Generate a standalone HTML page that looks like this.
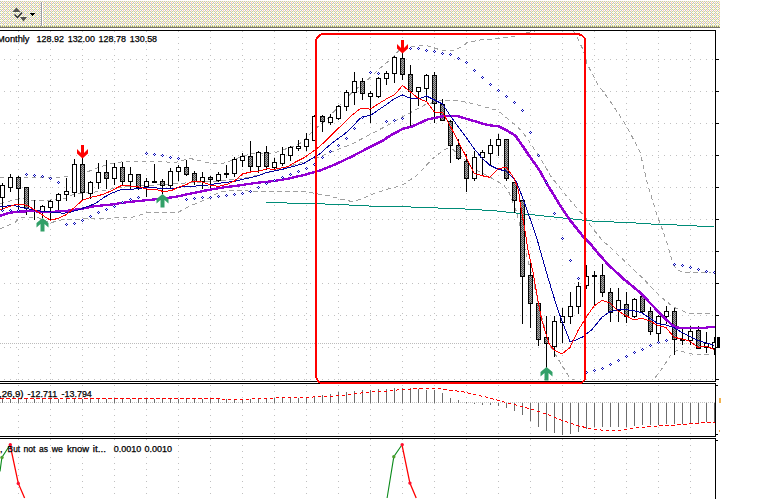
<!DOCTYPE html><html><head><meta charset="utf-8"><title>chart</title>
<style>html,body{margin:0;padding:0;background:#fff;overflow:hidden}svg{display:block}text{font-family:"Liberation Sans",sans-serif;fill:#000}</style></head><body>
<svg width="760" height="499" viewBox="0 0 760 499">
<defs>
<pattern id="tb" x="0" y="1" width="4" height="4" patternUnits="userSpaceOnUse">
<rect x="0" y="0" width="1" height="1" fill="#c0c0c0"/>
<rect x="1" y="0" width="1" height="1" fill="#ffffc0"/>
<rect x="2" y="0" width="1" height="1" fill="#c0c0c0"/>
<rect x="3" y="0" width="1" height="1" fill="#ffffc0"/>
<rect x="0" y="1" width="1" height="1" fill="#ffffff"/>
<rect x="1" y="1" width="1" height="1" fill="#c0c0c0"/>
<rect x="2" y="1" width="1" height="1" fill="#ffffff"/>
<rect x="3" y="1" width="1" height="1" fill="#ffc0c0"/>
<rect x="0" y="2" width="1" height="1" fill="#c0c0c0"/>
<rect x="1" y="2" width="1" height="1" fill="#ffffc0"/>
<rect x="2" y="2" width="1" height="1" fill="#c0c0c0"/>
<rect x="3" y="2" width="1" height="1" fill="#ffffc0"/>
<rect x="0" y="3" width="1" height="1" fill="#ffffff"/>
<rect x="1" y="3" width="1" height="1" fill="#ffffc0"/>
<rect x="2" y="3" width="1" height="1" fill="#ffffff"/>
<rect x="3" y="3" width="1" height="1" fill="#c0c0c0"/>
</pattern>
<pattern id="ck" x="0" y="0" width="2" height="2" patternUnits="userSpaceOnUse"><rect width="2" height="2" fill="#a8a8a8"/><rect x="0" y="0" width="1" height="1" fill="#505050"/><rect x="1" y="1" width="1" height="1" fill="#505050"/></pattern>
<clipPath id="cm"><rect x="0" y="31" width="715" height="350"/></clipPath>
<clipPath id="cb"><rect x="0" y="439" width="715" height="60"/></clipPath>
</defs>
<rect width="760" height="499" fill="#fff"/>
<g shape-rendering="crispEdges">
<rect x="0" y="1" width="720" height="27" fill="url(#tb)"/>
<rect x="0" y="27" width="720" height="1" fill="#74746a"/>
<rect x="0" y="26" width="720" height="1" fill="#f0f098"/>
<path d="M0 26h1v1h-1zM2 26h1v1h-1zM4 26h1v1h-1zM6 26h1v1h-1zM8 26h1v1h-1zM10 26h1v1h-1zM12 26h1v1h-1zM14 26h1v1h-1zM16 26h1v1h-1zM18 26h1v1h-1zM20 26h1v1h-1zM22 26h1v1h-1zM24 26h1v1h-1zM26 26h1v1h-1zM28 26h1v1h-1zM30 26h1v1h-1zM32 26h1v1h-1zM34 26h1v1h-1zM36 26h1v1h-1zM38 26h1v1h-1zM40 26h1v1h-1zM42 26h1v1h-1zM44 26h1v1h-1zM46 26h1v1h-1zM48 26h1v1h-1zM50 26h1v1h-1zM52 26h1v1h-1zM54 26h1v1h-1zM56 26h1v1h-1zM58 26h1v1h-1zM60 26h1v1h-1zM62 26h1v1h-1zM64 26h1v1h-1zM66 26h1v1h-1zM68 26h1v1h-1zM70 26h1v1h-1zM72 26h1v1h-1zM74 26h1v1h-1zM76 26h1v1h-1zM78 26h1v1h-1zM80 26h1v1h-1zM82 26h1v1h-1zM84 26h1v1h-1zM86 26h1v1h-1zM88 26h1v1h-1zM90 26h1v1h-1zM92 26h1v1h-1zM94 26h1v1h-1zM96 26h1v1h-1zM98 26h1v1h-1zM100 26h1v1h-1zM102 26h1v1h-1zM104 26h1v1h-1zM106 26h1v1h-1zM108 26h1v1h-1zM110 26h1v1h-1zM112 26h1v1h-1zM114 26h1v1h-1zM116 26h1v1h-1zM118 26h1v1h-1zM120 26h1v1h-1zM122 26h1v1h-1zM124 26h1v1h-1zM126 26h1v1h-1zM128 26h1v1h-1zM130 26h1v1h-1zM132 26h1v1h-1zM134 26h1v1h-1zM136 26h1v1h-1zM138 26h1v1h-1zM140 26h1v1h-1zM142 26h1v1h-1zM144 26h1v1h-1zM146 26h1v1h-1zM148 26h1v1h-1zM150 26h1v1h-1zM152 26h1v1h-1zM154 26h1v1h-1zM156 26h1v1h-1zM158 26h1v1h-1zM160 26h1v1h-1zM162 26h1v1h-1zM164 26h1v1h-1zM166 26h1v1h-1zM168 26h1v1h-1zM170 26h1v1h-1zM172 26h1v1h-1zM174 26h1v1h-1zM176 26h1v1h-1zM178 26h1v1h-1zM180 26h1v1h-1zM182 26h1v1h-1zM184 26h1v1h-1zM186 26h1v1h-1zM188 26h1v1h-1zM190 26h1v1h-1zM192 26h1v1h-1zM194 26h1v1h-1zM196 26h1v1h-1zM198 26h1v1h-1zM200 26h1v1h-1zM202 26h1v1h-1zM204 26h1v1h-1zM206 26h1v1h-1zM208 26h1v1h-1zM210 26h1v1h-1zM212 26h1v1h-1zM214 26h1v1h-1zM216 26h1v1h-1zM218 26h1v1h-1zM220 26h1v1h-1zM222 26h1v1h-1zM224 26h1v1h-1zM226 26h1v1h-1zM228 26h1v1h-1zM230 26h1v1h-1zM232 26h1v1h-1zM234 26h1v1h-1zM236 26h1v1h-1zM238 26h1v1h-1zM240 26h1v1h-1zM242 26h1v1h-1zM244 26h1v1h-1zM246 26h1v1h-1zM248 26h1v1h-1zM250 26h1v1h-1zM252 26h1v1h-1zM254 26h1v1h-1zM256 26h1v1h-1zM258 26h1v1h-1zM260 26h1v1h-1zM262 26h1v1h-1zM264 26h1v1h-1zM266 26h1v1h-1zM268 26h1v1h-1zM270 26h1v1h-1zM272 26h1v1h-1zM274 26h1v1h-1zM276 26h1v1h-1zM278 26h1v1h-1zM280 26h1v1h-1zM282 26h1v1h-1zM284 26h1v1h-1zM286 26h1v1h-1zM288 26h1v1h-1zM290 26h1v1h-1zM292 26h1v1h-1zM294 26h1v1h-1zM296 26h1v1h-1zM298 26h1v1h-1zM300 26h1v1h-1zM302 26h1v1h-1zM304 26h1v1h-1zM306 26h1v1h-1zM308 26h1v1h-1zM310 26h1v1h-1zM312 26h1v1h-1zM314 26h1v1h-1zM316 26h1v1h-1zM318 26h1v1h-1zM320 26h1v1h-1zM322 26h1v1h-1zM324 26h1v1h-1zM326 26h1v1h-1zM328 26h1v1h-1zM330 26h1v1h-1zM332 26h1v1h-1zM334 26h1v1h-1zM336 26h1v1h-1zM338 26h1v1h-1zM340 26h1v1h-1zM342 26h1v1h-1zM344 26h1v1h-1zM346 26h1v1h-1zM348 26h1v1h-1zM350 26h1v1h-1zM352 26h1v1h-1zM354 26h1v1h-1zM356 26h1v1h-1zM358 26h1v1h-1zM360 26h1v1h-1zM362 26h1v1h-1zM364 26h1v1h-1zM366 26h1v1h-1zM368 26h1v1h-1zM370 26h1v1h-1zM372 26h1v1h-1zM374 26h1v1h-1zM376 26h1v1h-1zM378 26h1v1h-1zM380 26h1v1h-1zM382 26h1v1h-1zM384 26h1v1h-1zM386 26h1v1h-1zM388 26h1v1h-1zM390 26h1v1h-1zM392 26h1v1h-1zM394 26h1v1h-1zM396 26h1v1h-1zM398 26h1v1h-1zM400 26h1v1h-1zM402 26h1v1h-1zM404 26h1v1h-1zM406 26h1v1h-1zM408 26h1v1h-1zM410 26h1v1h-1zM412 26h1v1h-1zM414 26h1v1h-1zM416 26h1v1h-1zM418 26h1v1h-1zM420 26h1v1h-1zM422 26h1v1h-1zM424 26h1v1h-1zM426 26h1v1h-1zM428 26h1v1h-1zM430 26h1v1h-1zM432 26h1v1h-1zM434 26h1v1h-1zM436 26h1v1h-1zM438 26h1v1h-1zM440 26h1v1h-1zM442 26h1v1h-1zM444 26h1v1h-1zM446 26h1v1h-1zM448 26h1v1h-1zM450 26h1v1h-1zM452 26h1v1h-1zM454 26h1v1h-1zM456 26h1v1h-1zM458 26h1v1h-1zM460 26h1v1h-1zM462 26h1v1h-1zM464 26h1v1h-1zM466 26h1v1h-1zM468 26h1v1h-1zM470 26h1v1h-1zM472 26h1v1h-1zM474 26h1v1h-1zM476 26h1v1h-1zM478 26h1v1h-1zM480 26h1v1h-1zM482 26h1v1h-1zM484 26h1v1h-1zM486 26h1v1h-1zM488 26h1v1h-1zM490 26h1v1h-1zM492 26h1v1h-1zM494 26h1v1h-1zM496 26h1v1h-1zM498 26h1v1h-1zM500 26h1v1h-1zM502 26h1v1h-1zM504 26h1v1h-1zM506 26h1v1h-1zM508 26h1v1h-1zM510 26h1v1h-1zM512 26h1v1h-1zM514 26h1v1h-1zM516 26h1v1h-1zM518 26h1v1h-1zM520 26h1v1h-1zM522 26h1v1h-1zM524 26h1v1h-1zM526 26h1v1h-1zM528 26h1v1h-1zM530 26h1v1h-1zM532 26h1v1h-1zM534 26h1v1h-1zM536 26h1v1h-1zM538 26h1v1h-1zM540 26h1v1h-1zM542 26h1v1h-1zM544 26h1v1h-1zM546 26h1v1h-1zM548 26h1v1h-1zM550 26h1v1h-1zM552 26h1v1h-1zM554 26h1v1h-1zM556 26h1v1h-1zM558 26h1v1h-1zM560 26h1v1h-1zM562 26h1v1h-1zM564 26h1v1h-1zM566 26h1v1h-1zM568 26h1v1h-1zM570 26h1v1h-1zM572 26h1v1h-1zM574 26h1v1h-1zM576 26h1v1h-1zM578 26h1v1h-1zM580 26h1v1h-1zM582 26h1v1h-1zM584 26h1v1h-1zM586 26h1v1h-1zM588 26h1v1h-1zM590 26h1v1h-1zM592 26h1v1h-1zM594 26h1v1h-1zM596 26h1v1h-1zM598 26h1v1h-1zM600 26h1v1h-1zM602 26h1v1h-1zM604 26h1v1h-1zM606 26h1v1h-1zM608 26h1v1h-1zM610 26h1v1h-1zM612 26h1v1h-1zM614 26h1v1h-1zM616 26h1v1h-1zM618 26h1v1h-1zM620 26h1v1h-1zM622 26h1v1h-1zM624 26h1v1h-1zM626 26h1v1h-1zM628 26h1v1h-1zM630 26h1v1h-1zM632 26h1v1h-1zM634 26h1v1h-1zM636 26h1v1h-1zM638 26h1v1h-1zM640 26h1v1h-1zM642 26h1v1h-1zM644 26h1v1h-1zM646 26h1v1h-1zM648 26h1v1h-1zM650 26h1v1h-1zM652 26h1v1h-1zM654 26h1v1h-1zM656 26h1v1h-1zM658 26h1v1h-1zM660 26h1v1h-1zM662 26h1v1h-1zM664 26h1v1h-1zM666 26h1v1h-1zM668 26h1v1h-1zM670 26h1v1h-1zM672 26h1v1h-1zM674 26h1v1h-1zM676 26h1v1h-1zM678 26h1v1h-1zM680 26h1v1h-1zM682 26h1v1h-1zM684 26h1v1h-1zM686 26h1v1h-1zM688 26h1v1h-1zM690 26h1v1h-1zM692 26h1v1h-1zM694 26h1v1h-1zM696 26h1v1h-1zM698 26h1v1h-1zM700 26h1v1h-1zM702 26h1v1h-1zM704 26h1v1h-1zM706 26h1v1h-1zM708 26h1v1h-1zM710 26h1v1h-1zM712 26h1v1h-1zM714 26h1v1h-1zM716 26h1v1h-1zM718 26h1v1h-1z" fill="#909080"/>
<rect x="41" y="2" width="1" height="24" fill="#a0a0a0"/><rect x="42" y="2" width="1" height="24" fill="#fff"/>
<rect x="30" y="13" width="5" height="1" fill="#000"/><rect x="31" y="14" width="3" height="1" fill="#000"/><rect x="32" y="15" width="1" height="1" fill="#000"/>
</g>
<g>
<polygon points="16.5,7.5 20.5,12 12.5,12" fill="#383838" opacity="0.85"/>
<polygon points="20,17 27,17 23.5,21.5" fill="#383838" opacity="0.85"/>
<polyline points="14.5,14.5 17.5,17.5 22,12.5" fill="none" stroke="#303030" stroke-width="1.4"/>
</g>
<g shape-rendering="crispEdges" fill="#c0c0c0">
<path d="M18 31h1v1h-1zM18 37h1v1h-1zM18 43h1v1h-1zM18 49h1v1h-1zM18 55h1v1h-1zM18 61h1v1h-1zM18 67h1v1h-1zM18 73h1v1h-1zM18 79h1v1h-1zM18 85h1v1h-1zM18 91h1v1h-1zM18 97h1v1h-1zM18 103h1v1h-1zM18 109h1v1h-1zM18 115h1v1h-1zM18 121h1v1h-1zM18 127h1v1h-1zM18 133h1v1h-1zM18 139h1v1h-1zM18 145h1v1h-1zM18 151h1v1h-1zM18 157h1v1h-1zM18 163h1v1h-1zM18 169h1v1h-1zM18 175h1v1h-1zM18 181h1v1h-1zM18 187h1v1h-1zM18 193h1v1h-1zM18 199h1v1h-1zM18 205h1v1h-1zM18 211h1v1h-1zM18 217h1v1h-1zM18 223h1v1h-1zM18 229h1v1h-1zM18 235h1v1h-1zM18 241h1v1h-1zM18 247h1v1h-1zM18 253h1v1h-1zM18 259h1v1h-1zM18 265h1v1h-1zM18 271h1v1h-1zM18 277h1v1h-1zM18 283h1v1h-1zM18 289h1v1h-1zM18 295h1v1h-1zM18 301h1v1h-1zM18 307h1v1h-1zM18 313h1v1h-1zM18 319h1v1h-1zM18 325h1v1h-1zM18 331h1v1h-1zM18 337h1v1h-1zM18 343h1v1h-1zM18 349h1v1h-1zM18 355h1v1h-1zM18 361h1v1h-1zM18 367h1v1h-1zM18 373h1v1h-1zM18 379h1v1h-1zM18 385h1v1h-1zM18 391h1v1h-1zM18 397h1v1h-1zM18 403h1v1h-1zM18 409h1v1h-1zM18 415h1v1h-1zM18 421h1v1h-1zM18 427h1v1h-1zM18 433h1v1h-1zM18 439h1v1h-1zM18 445h1v1h-1zM18 451h1v1h-1zM18 457h1v1h-1zM18 463h1v1h-1zM18 469h1v1h-1zM18 475h1v1h-1zM18 481h1v1h-1zM18 487h1v1h-1zM18 493h1v1h-1zM50 31h1v1h-1zM50 37h1v1h-1zM50 43h1v1h-1zM50 49h1v1h-1zM50 55h1v1h-1zM50 61h1v1h-1zM50 67h1v1h-1zM50 73h1v1h-1zM50 79h1v1h-1zM50 85h1v1h-1zM50 91h1v1h-1zM50 97h1v1h-1zM50 103h1v1h-1zM50 109h1v1h-1zM50 115h1v1h-1zM50 121h1v1h-1zM50 127h1v1h-1zM50 133h1v1h-1zM50 139h1v1h-1zM50 145h1v1h-1zM50 151h1v1h-1zM50 157h1v1h-1zM50 163h1v1h-1zM50 169h1v1h-1zM50 175h1v1h-1zM50 181h1v1h-1zM50 187h1v1h-1zM50 193h1v1h-1zM50 199h1v1h-1zM50 205h1v1h-1zM50 211h1v1h-1zM50 217h1v1h-1zM50 223h1v1h-1zM50 229h1v1h-1zM50 235h1v1h-1zM50 241h1v1h-1zM50 247h1v1h-1zM50 253h1v1h-1zM50 259h1v1h-1zM50 265h1v1h-1zM50 271h1v1h-1zM50 277h1v1h-1zM50 283h1v1h-1zM50 289h1v1h-1zM50 295h1v1h-1zM50 301h1v1h-1zM50 307h1v1h-1zM50 313h1v1h-1zM50 319h1v1h-1zM50 325h1v1h-1zM50 331h1v1h-1zM50 337h1v1h-1zM50 343h1v1h-1zM50 349h1v1h-1zM50 355h1v1h-1zM50 361h1v1h-1zM50 367h1v1h-1zM50 373h1v1h-1zM50 379h1v1h-1zM50 385h1v1h-1zM50 391h1v1h-1zM50 397h1v1h-1zM50 403h1v1h-1zM50 409h1v1h-1zM50 415h1v1h-1zM50 421h1v1h-1zM50 427h1v1h-1zM50 433h1v1h-1zM50 439h1v1h-1zM50 445h1v1h-1zM50 451h1v1h-1zM50 457h1v1h-1zM50 463h1v1h-1zM50 469h1v1h-1zM50 475h1v1h-1zM50 481h1v1h-1zM50 487h1v1h-1zM50 493h1v1h-1zM82 31h1v1h-1zM82 37h1v1h-1zM82 43h1v1h-1zM82 49h1v1h-1zM82 55h1v1h-1zM82 61h1v1h-1zM82 67h1v1h-1zM82 73h1v1h-1zM82 79h1v1h-1zM82 85h1v1h-1zM82 91h1v1h-1zM82 97h1v1h-1zM82 103h1v1h-1zM82 109h1v1h-1zM82 115h1v1h-1zM82 121h1v1h-1zM82 127h1v1h-1zM82 133h1v1h-1zM82 139h1v1h-1zM82 145h1v1h-1zM82 151h1v1h-1zM82 157h1v1h-1zM82 163h1v1h-1zM82 169h1v1h-1zM82 175h1v1h-1zM82 181h1v1h-1zM82 187h1v1h-1zM82 193h1v1h-1zM82 199h1v1h-1zM82 205h1v1h-1zM82 211h1v1h-1zM82 217h1v1h-1zM82 223h1v1h-1zM82 229h1v1h-1zM82 235h1v1h-1zM82 241h1v1h-1zM82 247h1v1h-1zM82 253h1v1h-1zM82 259h1v1h-1zM82 265h1v1h-1zM82 271h1v1h-1zM82 277h1v1h-1zM82 283h1v1h-1zM82 289h1v1h-1zM82 295h1v1h-1zM82 301h1v1h-1zM82 307h1v1h-1zM82 313h1v1h-1zM82 319h1v1h-1zM82 325h1v1h-1zM82 331h1v1h-1zM82 337h1v1h-1zM82 343h1v1h-1zM82 349h1v1h-1zM82 355h1v1h-1zM82 361h1v1h-1zM82 367h1v1h-1zM82 373h1v1h-1zM82 379h1v1h-1zM82 385h1v1h-1zM82 391h1v1h-1zM82 397h1v1h-1zM82 403h1v1h-1zM82 409h1v1h-1zM82 415h1v1h-1zM82 421h1v1h-1zM82 427h1v1h-1zM82 433h1v1h-1zM82 439h1v1h-1zM82 445h1v1h-1zM82 451h1v1h-1zM82 457h1v1h-1zM82 463h1v1h-1zM82 469h1v1h-1zM82 475h1v1h-1zM82 481h1v1h-1zM82 487h1v1h-1zM82 493h1v1h-1zM114 31h1v1h-1zM114 37h1v1h-1zM114 43h1v1h-1zM114 49h1v1h-1zM114 55h1v1h-1zM114 61h1v1h-1zM114 67h1v1h-1zM114 73h1v1h-1zM114 79h1v1h-1zM114 85h1v1h-1zM114 91h1v1h-1zM114 97h1v1h-1zM114 103h1v1h-1zM114 109h1v1h-1zM114 115h1v1h-1zM114 121h1v1h-1zM114 127h1v1h-1zM114 133h1v1h-1zM114 139h1v1h-1zM114 145h1v1h-1zM114 151h1v1h-1zM114 157h1v1h-1zM114 163h1v1h-1zM114 169h1v1h-1zM114 175h1v1h-1zM114 181h1v1h-1zM114 187h1v1h-1zM114 193h1v1h-1zM114 199h1v1h-1zM114 205h1v1h-1zM114 211h1v1h-1zM114 217h1v1h-1zM114 223h1v1h-1zM114 229h1v1h-1zM114 235h1v1h-1zM114 241h1v1h-1zM114 247h1v1h-1zM114 253h1v1h-1zM114 259h1v1h-1zM114 265h1v1h-1zM114 271h1v1h-1zM114 277h1v1h-1zM114 283h1v1h-1zM114 289h1v1h-1zM114 295h1v1h-1zM114 301h1v1h-1zM114 307h1v1h-1zM114 313h1v1h-1zM114 319h1v1h-1zM114 325h1v1h-1zM114 331h1v1h-1zM114 337h1v1h-1zM114 343h1v1h-1zM114 349h1v1h-1zM114 355h1v1h-1zM114 361h1v1h-1zM114 367h1v1h-1zM114 373h1v1h-1zM114 379h1v1h-1zM114 385h1v1h-1zM114 391h1v1h-1zM114 397h1v1h-1zM114 403h1v1h-1zM114 409h1v1h-1zM114 415h1v1h-1zM114 421h1v1h-1zM114 427h1v1h-1zM114 433h1v1h-1zM114 439h1v1h-1zM114 445h1v1h-1zM114 451h1v1h-1zM114 457h1v1h-1zM114 463h1v1h-1zM114 469h1v1h-1zM114 475h1v1h-1zM114 481h1v1h-1zM114 487h1v1h-1zM114 493h1v1h-1zM146 31h1v1h-1zM146 37h1v1h-1zM146 43h1v1h-1zM146 49h1v1h-1zM146 55h1v1h-1zM146 61h1v1h-1zM146 67h1v1h-1zM146 73h1v1h-1zM146 79h1v1h-1zM146 85h1v1h-1zM146 91h1v1h-1zM146 97h1v1h-1zM146 103h1v1h-1zM146 109h1v1h-1zM146 115h1v1h-1zM146 121h1v1h-1zM146 127h1v1h-1zM146 133h1v1h-1zM146 139h1v1h-1zM146 145h1v1h-1zM146 151h1v1h-1zM146 157h1v1h-1zM146 163h1v1h-1zM146 169h1v1h-1zM146 175h1v1h-1zM146 181h1v1h-1zM146 187h1v1h-1zM146 193h1v1h-1zM146 199h1v1h-1zM146 205h1v1h-1zM146 211h1v1h-1zM146 217h1v1h-1zM146 223h1v1h-1zM146 229h1v1h-1zM146 235h1v1h-1zM146 241h1v1h-1zM146 247h1v1h-1zM146 253h1v1h-1zM146 259h1v1h-1zM146 265h1v1h-1zM146 271h1v1h-1zM146 277h1v1h-1zM146 283h1v1h-1zM146 289h1v1h-1zM146 295h1v1h-1zM146 301h1v1h-1zM146 307h1v1h-1zM146 313h1v1h-1zM146 319h1v1h-1zM146 325h1v1h-1zM146 331h1v1h-1zM146 337h1v1h-1zM146 343h1v1h-1zM146 349h1v1h-1zM146 355h1v1h-1zM146 361h1v1h-1zM146 367h1v1h-1zM146 373h1v1h-1zM146 379h1v1h-1zM146 385h1v1h-1zM146 391h1v1h-1zM146 397h1v1h-1zM146 403h1v1h-1zM146 409h1v1h-1zM146 415h1v1h-1zM146 421h1v1h-1zM146 427h1v1h-1zM146 433h1v1h-1zM146 439h1v1h-1zM146 445h1v1h-1zM146 451h1v1h-1zM146 457h1v1h-1zM146 463h1v1h-1zM146 469h1v1h-1zM146 475h1v1h-1zM146 481h1v1h-1zM146 487h1v1h-1zM146 493h1v1h-1zM178 31h1v1h-1zM178 37h1v1h-1zM178 43h1v1h-1zM178 49h1v1h-1zM178 55h1v1h-1zM178 61h1v1h-1zM178 67h1v1h-1zM178 73h1v1h-1zM178 79h1v1h-1zM178 85h1v1h-1zM178 91h1v1h-1zM178 97h1v1h-1zM178 103h1v1h-1zM178 109h1v1h-1zM178 115h1v1h-1zM178 121h1v1h-1zM178 127h1v1h-1zM178 133h1v1h-1zM178 139h1v1h-1zM178 145h1v1h-1zM178 151h1v1h-1zM178 157h1v1h-1zM178 163h1v1h-1zM178 169h1v1h-1zM178 175h1v1h-1zM178 181h1v1h-1zM178 187h1v1h-1zM178 193h1v1h-1zM178 199h1v1h-1zM178 205h1v1h-1zM178 211h1v1h-1zM178 217h1v1h-1zM178 223h1v1h-1zM178 229h1v1h-1zM178 235h1v1h-1zM178 241h1v1h-1zM178 247h1v1h-1zM178 253h1v1h-1zM178 259h1v1h-1zM178 265h1v1h-1zM178 271h1v1h-1zM178 277h1v1h-1zM178 283h1v1h-1zM178 289h1v1h-1zM178 295h1v1h-1zM178 301h1v1h-1zM178 307h1v1h-1zM178 313h1v1h-1zM178 319h1v1h-1zM178 325h1v1h-1zM178 331h1v1h-1zM178 337h1v1h-1zM178 343h1v1h-1zM178 349h1v1h-1zM178 355h1v1h-1zM178 361h1v1h-1zM178 367h1v1h-1zM178 373h1v1h-1zM178 379h1v1h-1zM178 385h1v1h-1zM178 391h1v1h-1zM178 397h1v1h-1zM178 403h1v1h-1zM178 409h1v1h-1zM178 415h1v1h-1zM178 421h1v1h-1zM178 427h1v1h-1zM178 433h1v1h-1zM178 439h1v1h-1zM178 445h1v1h-1zM178 451h1v1h-1zM178 457h1v1h-1zM178 463h1v1h-1zM178 469h1v1h-1zM178 475h1v1h-1zM178 481h1v1h-1zM178 487h1v1h-1zM178 493h1v1h-1zM210 31h1v1h-1zM210 37h1v1h-1zM210 43h1v1h-1zM210 49h1v1h-1zM210 55h1v1h-1zM210 61h1v1h-1zM210 67h1v1h-1zM210 73h1v1h-1zM210 79h1v1h-1zM210 85h1v1h-1zM210 91h1v1h-1zM210 97h1v1h-1zM210 103h1v1h-1zM210 109h1v1h-1zM210 115h1v1h-1zM210 121h1v1h-1zM210 127h1v1h-1zM210 133h1v1h-1zM210 139h1v1h-1zM210 145h1v1h-1zM210 151h1v1h-1zM210 157h1v1h-1zM210 163h1v1h-1zM210 169h1v1h-1zM210 175h1v1h-1zM210 181h1v1h-1zM210 187h1v1h-1zM210 193h1v1h-1zM210 199h1v1h-1zM210 205h1v1h-1zM210 211h1v1h-1zM210 217h1v1h-1zM210 223h1v1h-1zM210 229h1v1h-1zM210 235h1v1h-1zM210 241h1v1h-1zM210 247h1v1h-1zM210 253h1v1h-1zM210 259h1v1h-1zM210 265h1v1h-1zM210 271h1v1h-1zM210 277h1v1h-1zM210 283h1v1h-1zM210 289h1v1h-1zM210 295h1v1h-1zM210 301h1v1h-1zM210 307h1v1h-1zM210 313h1v1h-1zM210 319h1v1h-1zM210 325h1v1h-1zM210 331h1v1h-1zM210 337h1v1h-1zM210 343h1v1h-1zM210 349h1v1h-1zM210 355h1v1h-1zM210 361h1v1h-1zM210 367h1v1h-1zM210 373h1v1h-1zM210 379h1v1h-1zM210 385h1v1h-1zM210 391h1v1h-1zM210 397h1v1h-1zM210 403h1v1h-1zM210 409h1v1h-1zM210 415h1v1h-1zM210 421h1v1h-1zM210 427h1v1h-1zM210 433h1v1h-1zM210 439h1v1h-1zM210 445h1v1h-1zM210 451h1v1h-1zM210 457h1v1h-1zM210 463h1v1h-1zM210 469h1v1h-1zM210 475h1v1h-1zM210 481h1v1h-1zM210 487h1v1h-1zM210 493h1v1h-1zM242 31h1v1h-1zM242 37h1v1h-1zM242 43h1v1h-1zM242 49h1v1h-1zM242 55h1v1h-1zM242 61h1v1h-1zM242 67h1v1h-1zM242 73h1v1h-1zM242 79h1v1h-1zM242 85h1v1h-1zM242 91h1v1h-1zM242 97h1v1h-1zM242 103h1v1h-1zM242 109h1v1h-1zM242 115h1v1h-1zM242 121h1v1h-1zM242 127h1v1h-1zM242 133h1v1h-1zM242 139h1v1h-1zM242 145h1v1h-1zM242 151h1v1h-1zM242 157h1v1h-1zM242 163h1v1h-1zM242 169h1v1h-1zM242 175h1v1h-1zM242 181h1v1h-1zM242 187h1v1h-1zM242 193h1v1h-1zM242 199h1v1h-1zM242 205h1v1h-1zM242 211h1v1h-1zM242 217h1v1h-1zM242 223h1v1h-1zM242 229h1v1h-1zM242 235h1v1h-1zM242 241h1v1h-1zM242 247h1v1h-1zM242 253h1v1h-1zM242 259h1v1h-1zM242 265h1v1h-1zM242 271h1v1h-1zM242 277h1v1h-1zM242 283h1v1h-1zM242 289h1v1h-1zM242 295h1v1h-1zM242 301h1v1h-1zM242 307h1v1h-1zM242 313h1v1h-1zM242 319h1v1h-1zM242 325h1v1h-1zM242 331h1v1h-1zM242 337h1v1h-1zM242 343h1v1h-1zM242 349h1v1h-1zM242 355h1v1h-1zM242 361h1v1h-1zM242 367h1v1h-1zM242 373h1v1h-1zM242 379h1v1h-1zM242 385h1v1h-1zM242 391h1v1h-1zM242 397h1v1h-1zM242 403h1v1h-1zM242 409h1v1h-1zM242 415h1v1h-1zM242 421h1v1h-1zM242 427h1v1h-1zM242 433h1v1h-1zM242 439h1v1h-1zM242 445h1v1h-1zM242 451h1v1h-1zM242 457h1v1h-1zM242 463h1v1h-1zM242 469h1v1h-1zM242 475h1v1h-1zM242 481h1v1h-1zM242 487h1v1h-1zM242 493h1v1h-1zM274 31h1v1h-1zM274 37h1v1h-1zM274 43h1v1h-1zM274 49h1v1h-1zM274 55h1v1h-1zM274 61h1v1h-1zM274 67h1v1h-1zM274 73h1v1h-1zM274 79h1v1h-1zM274 85h1v1h-1zM274 91h1v1h-1zM274 97h1v1h-1zM274 103h1v1h-1zM274 109h1v1h-1zM274 115h1v1h-1zM274 121h1v1h-1zM274 127h1v1h-1zM274 133h1v1h-1zM274 139h1v1h-1zM274 145h1v1h-1zM274 151h1v1h-1zM274 157h1v1h-1zM274 163h1v1h-1zM274 169h1v1h-1zM274 175h1v1h-1zM274 181h1v1h-1zM274 187h1v1h-1zM274 193h1v1h-1zM274 199h1v1h-1zM274 205h1v1h-1zM274 211h1v1h-1zM274 217h1v1h-1zM274 223h1v1h-1zM274 229h1v1h-1zM274 235h1v1h-1zM274 241h1v1h-1zM274 247h1v1h-1zM274 253h1v1h-1zM274 259h1v1h-1zM274 265h1v1h-1zM274 271h1v1h-1zM274 277h1v1h-1zM274 283h1v1h-1zM274 289h1v1h-1zM274 295h1v1h-1zM274 301h1v1h-1zM274 307h1v1h-1zM274 313h1v1h-1zM274 319h1v1h-1zM274 325h1v1h-1zM274 331h1v1h-1zM274 337h1v1h-1zM274 343h1v1h-1zM274 349h1v1h-1zM274 355h1v1h-1zM274 361h1v1h-1zM274 367h1v1h-1zM274 373h1v1h-1zM274 379h1v1h-1zM274 385h1v1h-1zM274 391h1v1h-1zM274 397h1v1h-1zM274 403h1v1h-1zM274 409h1v1h-1zM274 415h1v1h-1zM274 421h1v1h-1zM274 427h1v1h-1zM274 433h1v1h-1zM274 439h1v1h-1zM274 445h1v1h-1zM274 451h1v1h-1zM274 457h1v1h-1zM274 463h1v1h-1zM274 469h1v1h-1zM274 475h1v1h-1zM274 481h1v1h-1zM274 487h1v1h-1zM274 493h1v1h-1zM306 31h1v1h-1zM306 37h1v1h-1zM306 43h1v1h-1zM306 49h1v1h-1zM306 55h1v1h-1zM306 61h1v1h-1zM306 67h1v1h-1zM306 73h1v1h-1zM306 79h1v1h-1zM306 85h1v1h-1zM306 91h1v1h-1zM306 97h1v1h-1zM306 103h1v1h-1zM306 109h1v1h-1zM306 115h1v1h-1zM306 121h1v1h-1zM306 127h1v1h-1zM306 133h1v1h-1zM306 139h1v1h-1zM306 145h1v1h-1zM306 151h1v1h-1zM306 157h1v1h-1zM306 163h1v1h-1zM306 169h1v1h-1zM306 175h1v1h-1zM306 181h1v1h-1zM306 187h1v1h-1zM306 193h1v1h-1zM306 199h1v1h-1zM306 205h1v1h-1zM306 211h1v1h-1zM306 217h1v1h-1zM306 223h1v1h-1zM306 229h1v1h-1zM306 235h1v1h-1zM306 241h1v1h-1zM306 247h1v1h-1zM306 253h1v1h-1zM306 259h1v1h-1zM306 265h1v1h-1zM306 271h1v1h-1zM306 277h1v1h-1zM306 283h1v1h-1zM306 289h1v1h-1zM306 295h1v1h-1zM306 301h1v1h-1zM306 307h1v1h-1zM306 313h1v1h-1zM306 319h1v1h-1zM306 325h1v1h-1zM306 331h1v1h-1zM306 337h1v1h-1zM306 343h1v1h-1zM306 349h1v1h-1zM306 355h1v1h-1zM306 361h1v1h-1zM306 367h1v1h-1zM306 373h1v1h-1zM306 379h1v1h-1zM306 385h1v1h-1zM306 391h1v1h-1zM306 397h1v1h-1zM306 403h1v1h-1zM306 409h1v1h-1zM306 415h1v1h-1zM306 421h1v1h-1zM306 427h1v1h-1zM306 433h1v1h-1zM306 439h1v1h-1zM306 445h1v1h-1zM306 451h1v1h-1zM306 457h1v1h-1zM306 463h1v1h-1zM306 469h1v1h-1zM306 475h1v1h-1zM306 481h1v1h-1zM306 487h1v1h-1zM306 493h1v1h-1zM338 31h1v1h-1zM338 37h1v1h-1zM338 43h1v1h-1zM338 49h1v1h-1zM338 55h1v1h-1zM338 61h1v1h-1zM338 67h1v1h-1zM338 73h1v1h-1zM338 79h1v1h-1zM338 85h1v1h-1zM338 91h1v1h-1zM338 97h1v1h-1zM338 103h1v1h-1zM338 109h1v1h-1zM338 115h1v1h-1zM338 121h1v1h-1zM338 127h1v1h-1zM338 133h1v1h-1zM338 139h1v1h-1zM338 145h1v1h-1zM338 151h1v1h-1zM338 157h1v1h-1zM338 163h1v1h-1zM338 169h1v1h-1zM338 175h1v1h-1zM338 181h1v1h-1zM338 187h1v1h-1zM338 193h1v1h-1zM338 199h1v1h-1zM338 205h1v1h-1zM338 211h1v1h-1zM338 217h1v1h-1zM338 223h1v1h-1zM338 229h1v1h-1zM338 235h1v1h-1zM338 241h1v1h-1zM338 247h1v1h-1zM338 253h1v1h-1zM338 259h1v1h-1zM338 265h1v1h-1zM338 271h1v1h-1zM338 277h1v1h-1zM338 283h1v1h-1zM338 289h1v1h-1zM338 295h1v1h-1zM338 301h1v1h-1zM338 307h1v1h-1zM338 313h1v1h-1zM338 319h1v1h-1zM338 325h1v1h-1zM338 331h1v1h-1zM338 337h1v1h-1zM338 343h1v1h-1zM338 349h1v1h-1zM338 355h1v1h-1zM338 361h1v1h-1zM338 367h1v1h-1zM338 373h1v1h-1zM338 379h1v1h-1zM338 385h1v1h-1zM338 391h1v1h-1zM338 397h1v1h-1zM338 403h1v1h-1zM338 409h1v1h-1zM338 415h1v1h-1zM338 421h1v1h-1zM338 427h1v1h-1zM338 433h1v1h-1zM338 439h1v1h-1zM338 445h1v1h-1zM338 451h1v1h-1zM338 457h1v1h-1zM338 463h1v1h-1zM338 469h1v1h-1zM338 475h1v1h-1zM338 481h1v1h-1zM338 487h1v1h-1zM338 493h1v1h-1zM370 31h1v1h-1zM370 37h1v1h-1zM370 43h1v1h-1zM370 49h1v1h-1zM370 55h1v1h-1zM370 61h1v1h-1zM370 67h1v1h-1zM370 73h1v1h-1zM370 79h1v1h-1zM370 85h1v1h-1zM370 91h1v1h-1zM370 97h1v1h-1zM370 103h1v1h-1zM370 109h1v1h-1zM370 115h1v1h-1zM370 121h1v1h-1zM370 127h1v1h-1zM370 133h1v1h-1zM370 139h1v1h-1zM370 145h1v1h-1zM370 151h1v1h-1zM370 157h1v1h-1zM370 163h1v1h-1zM370 169h1v1h-1zM370 175h1v1h-1zM370 181h1v1h-1zM370 187h1v1h-1zM370 193h1v1h-1zM370 199h1v1h-1zM370 205h1v1h-1zM370 211h1v1h-1zM370 217h1v1h-1zM370 223h1v1h-1zM370 229h1v1h-1zM370 235h1v1h-1zM370 241h1v1h-1zM370 247h1v1h-1zM370 253h1v1h-1zM370 259h1v1h-1zM370 265h1v1h-1zM370 271h1v1h-1zM370 277h1v1h-1zM370 283h1v1h-1zM370 289h1v1h-1zM370 295h1v1h-1zM370 301h1v1h-1zM370 307h1v1h-1zM370 313h1v1h-1zM370 319h1v1h-1zM370 325h1v1h-1zM370 331h1v1h-1zM370 337h1v1h-1zM370 343h1v1h-1zM370 349h1v1h-1zM370 355h1v1h-1zM370 361h1v1h-1zM370 367h1v1h-1zM370 373h1v1h-1zM370 379h1v1h-1zM370 385h1v1h-1zM370 391h1v1h-1zM370 397h1v1h-1zM370 403h1v1h-1zM370 409h1v1h-1zM370 415h1v1h-1zM370 421h1v1h-1zM370 427h1v1h-1zM370 433h1v1h-1zM370 439h1v1h-1zM370 445h1v1h-1zM370 451h1v1h-1zM370 457h1v1h-1zM370 463h1v1h-1zM370 469h1v1h-1zM370 475h1v1h-1zM370 481h1v1h-1zM370 487h1v1h-1zM370 493h1v1h-1zM402 31h1v1h-1zM402 37h1v1h-1zM402 43h1v1h-1zM402 49h1v1h-1zM402 55h1v1h-1zM402 61h1v1h-1zM402 67h1v1h-1zM402 73h1v1h-1zM402 79h1v1h-1zM402 85h1v1h-1zM402 91h1v1h-1zM402 97h1v1h-1zM402 103h1v1h-1zM402 109h1v1h-1zM402 115h1v1h-1zM402 121h1v1h-1zM402 127h1v1h-1zM402 133h1v1h-1zM402 139h1v1h-1zM402 145h1v1h-1zM402 151h1v1h-1zM402 157h1v1h-1zM402 163h1v1h-1zM402 169h1v1h-1zM402 175h1v1h-1zM402 181h1v1h-1zM402 187h1v1h-1zM402 193h1v1h-1zM402 199h1v1h-1zM402 205h1v1h-1zM402 211h1v1h-1zM402 217h1v1h-1zM402 223h1v1h-1zM402 229h1v1h-1zM402 235h1v1h-1zM402 241h1v1h-1zM402 247h1v1h-1zM402 253h1v1h-1zM402 259h1v1h-1zM402 265h1v1h-1zM402 271h1v1h-1zM402 277h1v1h-1zM402 283h1v1h-1zM402 289h1v1h-1zM402 295h1v1h-1zM402 301h1v1h-1zM402 307h1v1h-1zM402 313h1v1h-1zM402 319h1v1h-1zM402 325h1v1h-1zM402 331h1v1h-1zM402 337h1v1h-1zM402 343h1v1h-1zM402 349h1v1h-1zM402 355h1v1h-1zM402 361h1v1h-1zM402 367h1v1h-1zM402 373h1v1h-1zM402 379h1v1h-1zM402 385h1v1h-1zM402 391h1v1h-1zM402 397h1v1h-1zM402 403h1v1h-1zM402 409h1v1h-1zM402 415h1v1h-1zM402 421h1v1h-1zM402 427h1v1h-1zM402 433h1v1h-1zM402 439h1v1h-1zM402 445h1v1h-1zM402 451h1v1h-1zM402 457h1v1h-1zM402 463h1v1h-1zM402 469h1v1h-1zM402 475h1v1h-1zM402 481h1v1h-1zM402 487h1v1h-1zM402 493h1v1h-1zM434 31h1v1h-1zM434 37h1v1h-1zM434 43h1v1h-1zM434 49h1v1h-1zM434 55h1v1h-1zM434 61h1v1h-1zM434 67h1v1h-1zM434 73h1v1h-1zM434 79h1v1h-1zM434 85h1v1h-1zM434 91h1v1h-1zM434 97h1v1h-1zM434 103h1v1h-1zM434 109h1v1h-1zM434 115h1v1h-1zM434 121h1v1h-1zM434 127h1v1h-1zM434 133h1v1h-1zM434 139h1v1h-1zM434 145h1v1h-1zM434 151h1v1h-1zM434 157h1v1h-1zM434 163h1v1h-1zM434 169h1v1h-1zM434 175h1v1h-1zM434 181h1v1h-1zM434 187h1v1h-1zM434 193h1v1h-1zM434 199h1v1h-1zM434 205h1v1h-1zM434 211h1v1h-1zM434 217h1v1h-1zM434 223h1v1h-1zM434 229h1v1h-1zM434 235h1v1h-1zM434 241h1v1h-1zM434 247h1v1h-1zM434 253h1v1h-1zM434 259h1v1h-1zM434 265h1v1h-1zM434 271h1v1h-1zM434 277h1v1h-1zM434 283h1v1h-1zM434 289h1v1h-1zM434 295h1v1h-1zM434 301h1v1h-1zM434 307h1v1h-1zM434 313h1v1h-1zM434 319h1v1h-1zM434 325h1v1h-1zM434 331h1v1h-1zM434 337h1v1h-1zM434 343h1v1h-1zM434 349h1v1h-1zM434 355h1v1h-1zM434 361h1v1h-1zM434 367h1v1h-1zM434 373h1v1h-1zM434 379h1v1h-1zM434 385h1v1h-1zM434 391h1v1h-1zM434 397h1v1h-1zM434 403h1v1h-1zM434 409h1v1h-1zM434 415h1v1h-1zM434 421h1v1h-1zM434 427h1v1h-1zM434 433h1v1h-1zM434 439h1v1h-1zM434 445h1v1h-1zM434 451h1v1h-1zM434 457h1v1h-1zM434 463h1v1h-1zM434 469h1v1h-1zM434 475h1v1h-1zM434 481h1v1h-1zM434 487h1v1h-1zM434 493h1v1h-1zM466 31h1v1h-1zM466 37h1v1h-1zM466 43h1v1h-1zM466 49h1v1h-1zM466 55h1v1h-1zM466 61h1v1h-1zM466 67h1v1h-1zM466 73h1v1h-1zM466 79h1v1h-1zM466 85h1v1h-1zM466 91h1v1h-1zM466 97h1v1h-1zM466 103h1v1h-1zM466 109h1v1h-1zM466 115h1v1h-1zM466 121h1v1h-1zM466 127h1v1h-1zM466 133h1v1h-1zM466 139h1v1h-1zM466 145h1v1h-1zM466 151h1v1h-1zM466 157h1v1h-1zM466 163h1v1h-1zM466 169h1v1h-1zM466 175h1v1h-1zM466 181h1v1h-1zM466 187h1v1h-1zM466 193h1v1h-1zM466 199h1v1h-1zM466 205h1v1h-1zM466 211h1v1h-1zM466 217h1v1h-1zM466 223h1v1h-1zM466 229h1v1h-1zM466 235h1v1h-1zM466 241h1v1h-1zM466 247h1v1h-1zM466 253h1v1h-1zM466 259h1v1h-1zM466 265h1v1h-1zM466 271h1v1h-1zM466 277h1v1h-1zM466 283h1v1h-1zM466 289h1v1h-1zM466 295h1v1h-1zM466 301h1v1h-1zM466 307h1v1h-1zM466 313h1v1h-1zM466 319h1v1h-1zM466 325h1v1h-1zM466 331h1v1h-1zM466 337h1v1h-1zM466 343h1v1h-1zM466 349h1v1h-1zM466 355h1v1h-1zM466 361h1v1h-1zM466 367h1v1h-1zM466 373h1v1h-1zM466 379h1v1h-1zM466 385h1v1h-1zM466 391h1v1h-1zM466 397h1v1h-1zM466 403h1v1h-1zM466 409h1v1h-1zM466 415h1v1h-1zM466 421h1v1h-1zM466 427h1v1h-1zM466 433h1v1h-1zM466 439h1v1h-1zM466 445h1v1h-1zM466 451h1v1h-1zM466 457h1v1h-1zM466 463h1v1h-1zM466 469h1v1h-1zM466 475h1v1h-1zM466 481h1v1h-1zM466 487h1v1h-1zM466 493h1v1h-1zM498 31h1v1h-1zM498 37h1v1h-1zM498 43h1v1h-1zM498 49h1v1h-1zM498 55h1v1h-1zM498 61h1v1h-1zM498 67h1v1h-1zM498 73h1v1h-1zM498 79h1v1h-1zM498 85h1v1h-1zM498 91h1v1h-1zM498 97h1v1h-1zM498 103h1v1h-1zM498 109h1v1h-1zM498 115h1v1h-1zM498 121h1v1h-1zM498 127h1v1h-1zM498 133h1v1h-1zM498 139h1v1h-1zM498 145h1v1h-1zM498 151h1v1h-1zM498 157h1v1h-1zM498 163h1v1h-1zM498 169h1v1h-1zM498 175h1v1h-1zM498 181h1v1h-1zM498 187h1v1h-1zM498 193h1v1h-1zM498 199h1v1h-1zM498 205h1v1h-1zM498 211h1v1h-1zM498 217h1v1h-1zM498 223h1v1h-1zM498 229h1v1h-1zM498 235h1v1h-1zM498 241h1v1h-1zM498 247h1v1h-1zM498 253h1v1h-1zM498 259h1v1h-1zM498 265h1v1h-1zM498 271h1v1h-1zM498 277h1v1h-1zM498 283h1v1h-1zM498 289h1v1h-1zM498 295h1v1h-1zM498 301h1v1h-1zM498 307h1v1h-1zM498 313h1v1h-1zM498 319h1v1h-1zM498 325h1v1h-1zM498 331h1v1h-1zM498 337h1v1h-1zM498 343h1v1h-1zM498 349h1v1h-1zM498 355h1v1h-1zM498 361h1v1h-1zM498 367h1v1h-1zM498 373h1v1h-1zM498 379h1v1h-1zM498 385h1v1h-1zM498 391h1v1h-1zM498 397h1v1h-1zM498 403h1v1h-1zM498 409h1v1h-1zM498 415h1v1h-1zM498 421h1v1h-1zM498 427h1v1h-1zM498 433h1v1h-1zM498 439h1v1h-1zM498 445h1v1h-1zM498 451h1v1h-1zM498 457h1v1h-1zM498 463h1v1h-1zM498 469h1v1h-1zM498 475h1v1h-1zM498 481h1v1h-1zM498 487h1v1h-1zM498 493h1v1h-1zM530 31h1v1h-1zM530 37h1v1h-1zM530 43h1v1h-1zM530 49h1v1h-1zM530 55h1v1h-1zM530 61h1v1h-1zM530 67h1v1h-1zM530 73h1v1h-1zM530 79h1v1h-1zM530 85h1v1h-1zM530 91h1v1h-1zM530 97h1v1h-1zM530 103h1v1h-1zM530 109h1v1h-1zM530 115h1v1h-1zM530 121h1v1h-1zM530 127h1v1h-1zM530 133h1v1h-1zM530 139h1v1h-1zM530 145h1v1h-1zM530 151h1v1h-1zM530 157h1v1h-1zM530 163h1v1h-1zM530 169h1v1h-1zM530 175h1v1h-1zM530 181h1v1h-1zM530 187h1v1h-1zM530 193h1v1h-1zM530 199h1v1h-1zM530 205h1v1h-1zM530 211h1v1h-1zM530 217h1v1h-1zM530 223h1v1h-1zM530 229h1v1h-1zM530 235h1v1h-1zM530 241h1v1h-1zM530 247h1v1h-1zM530 253h1v1h-1zM530 259h1v1h-1zM530 265h1v1h-1zM530 271h1v1h-1zM530 277h1v1h-1zM530 283h1v1h-1zM530 289h1v1h-1zM530 295h1v1h-1zM530 301h1v1h-1zM530 307h1v1h-1zM530 313h1v1h-1zM530 319h1v1h-1zM530 325h1v1h-1zM530 331h1v1h-1zM530 337h1v1h-1zM530 343h1v1h-1zM530 349h1v1h-1zM530 355h1v1h-1zM530 361h1v1h-1zM530 367h1v1h-1zM530 373h1v1h-1zM530 379h1v1h-1zM530 385h1v1h-1zM530 391h1v1h-1zM530 397h1v1h-1zM530 403h1v1h-1zM530 409h1v1h-1zM530 415h1v1h-1zM530 421h1v1h-1zM530 427h1v1h-1zM530 433h1v1h-1zM530 439h1v1h-1zM530 445h1v1h-1zM530 451h1v1h-1zM530 457h1v1h-1zM530 463h1v1h-1zM530 469h1v1h-1zM530 475h1v1h-1zM530 481h1v1h-1zM530 487h1v1h-1zM530 493h1v1h-1zM562 31h1v1h-1zM562 37h1v1h-1zM562 43h1v1h-1zM562 49h1v1h-1zM562 55h1v1h-1zM562 61h1v1h-1zM562 67h1v1h-1zM562 73h1v1h-1zM562 79h1v1h-1zM562 85h1v1h-1zM562 91h1v1h-1zM562 97h1v1h-1zM562 103h1v1h-1zM562 109h1v1h-1zM562 115h1v1h-1zM562 121h1v1h-1zM562 127h1v1h-1zM562 133h1v1h-1zM562 139h1v1h-1zM562 145h1v1h-1zM562 151h1v1h-1zM562 157h1v1h-1zM562 163h1v1h-1zM562 169h1v1h-1zM562 175h1v1h-1zM562 181h1v1h-1zM562 187h1v1h-1zM562 193h1v1h-1zM562 199h1v1h-1zM562 205h1v1h-1zM562 211h1v1h-1zM562 217h1v1h-1zM562 223h1v1h-1zM562 229h1v1h-1zM562 235h1v1h-1zM562 241h1v1h-1zM562 247h1v1h-1zM562 253h1v1h-1zM562 259h1v1h-1zM562 265h1v1h-1zM562 271h1v1h-1zM562 277h1v1h-1zM562 283h1v1h-1zM562 289h1v1h-1zM562 295h1v1h-1zM562 301h1v1h-1zM562 307h1v1h-1zM562 313h1v1h-1zM562 319h1v1h-1zM562 325h1v1h-1zM562 331h1v1h-1zM562 337h1v1h-1zM562 343h1v1h-1zM562 349h1v1h-1zM562 355h1v1h-1zM562 361h1v1h-1zM562 367h1v1h-1zM562 373h1v1h-1zM562 379h1v1h-1zM562 385h1v1h-1zM562 391h1v1h-1zM562 397h1v1h-1zM562 403h1v1h-1zM562 409h1v1h-1zM562 415h1v1h-1zM562 421h1v1h-1zM562 427h1v1h-1zM562 433h1v1h-1zM562 439h1v1h-1zM562 445h1v1h-1zM562 451h1v1h-1zM562 457h1v1h-1zM562 463h1v1h-1zM562 469h1v1h-1zM562 475h1v1h-1zM562 481h1v1h-1zM562 487h1v1h-1zM562 493h1v1h-1zM594 31h1v1h-1zM594 37h1v1h-1zM594 43h1v1h-1zM594 49h1v1h-1zM594 55h1v1h-1zM594 61h1v1h-1zM594 67h1v1h-1zM594 73h1v1h-1zM594 79h1v1h-1zM594 85h1v1h-1zM594 91h1v1h-1zM594 97h1v1h-1zM594 103h1v1h-1zM594 109h1v1h-1zM594 115h1v1h-1zM594 121h1v1h-1zM594 127h1v1h-1zM594 133h1v1h-1zM594 139h1v1h-1zM594 145h1v1h-1zM594 151h1v1h-1zM594 157h1v1h-1zM594 163h1v1h-1zM594 169h1v1h-1zM594 175h1v1h-1zM594 181h1v1h-1zM594 187h1v1h-1zM594 193h1v1h-1zM594 199h1v1h-1zM594 205h1v1h-1zM594 211h1v1h-1zM594 217h1v1h-1zM594 223h1v1h-1zM594 229h1v1h-1zM594 235h1v1h-1zM594 241h1v1h-1zM594 247h1v1h-1zM594 253h1v1h-1zM594 259h1v1h-1zM594 265h1v1h-1zM594 271h1v1h-1zM594 277h1v1h-1zM594 283h1v1h-1zM594 289h1v1h-1zM594 295h1v1h-1zM594 301h1v1h-1zM594 307h1v1h-1zM594 313h1v1h-1zM594 319h1v1h-1zM594 325h1v1h-1zM594 331h1v1h-1zM594 337h1v1h-1zM594 343h1v1h-1zM594 349h1v1h-1zM594 355h1v1h-1zM594 361h1v1h-1zM594 367h1v1h-1zM594 373h1v1h-1zM594 379h1v1h-1zM594 385h1v1h-1zM594 391h1v1h-1zM594 397h1v1h-1zM594 403h1v1h-1zM594 409h1v1h-1zM594 415h1v1h-1zM594 421h1v1h-1zM594 427h1v1h-1zM594 433h1v1h-1zM594 439h1v1h-1zM594 445h1v1h-1zM594 451h1v1h-1zM594 457h1v1h-1zM594 463h1v1h-1zM594 469h1v1h-1zM594 475h1v1h-1zM594 481h1v1h-1zM594 487h1v1h-1zM594 493h1v1h-1zM626 31h1v1h-1zM626 37h1v1h-1zM626 43h1v1h-1zM626 49h1v1h-1zM626 55h1v1h-1zM626 61h1v1h-1zM626 67h1v1h-1zM626 73h1v1h-1zM626 79h1v1h-1zM626 85h1v1h-1zM626 91h1v1h-1zM626 97h1v1h-1zM626 103h1v1h-1zM626 109h1v1h-1zM626 115h1v1h-1zM626 121h1v1h-1zM626 127h1v1h-1zM626 133h1v1h-1zM626 139h1v1h-1zM626 145h1v1h-1zM626 151h1v1h-1zM626 157h1v1h-1zM626 163h1v1h-1zM626 169h1v1h-1zM626 175h1v1h-1zM626 181h1v1h-1zM626 187h1v1h-1zM626 193h1v1h-1zM626 199h1v1h-1zM626 205h1v1h-1zM626 211h1v1h-1zM626 217h1v1h-1zM626 223h1v1h-1zM626 229h1v1h-1zM626 235h1v1h-1zM626 241h1v1h-1zM626 247h1v1h-1zM626 253h1v1h-1zM626 259h1v1h-1zM626 265h1v1h-1zM626 271h1v1h-1zM626 277h1v1h-1zM626 283h1v1h-1zM626 289h1v1h-1zM626 295h1v1h-1zM626 301h1v1h-1zM626 307h1v1h-1zM626 313h1v1h-1zM626 319h1v1h-1zM626 325h1v1h-1zM626 331h1v1h-1zM626 337h1v1h-1zM626 343h1v1h-1zM626 349h1v1h-1zM626 355h1v1h-1zM626 361h1v1h-1zM626 367h1v1h-1zM626 373h1v1h-1zM626 379h1v1h-1zM626 385h1v1h-1zM626 391h1v1h-1zM626 397h1v1h-1zM626 403h1v1h-1zM626 409h1v1h-1zM626 415h1v1h-1zM626 421h1v1h-1zM626 427h1v1h-1zM626 433h1v1h-1zM626 439h1v1h-1zM626 445h1v1h-1zM626 451h1v1h-1zM626 457h1v1h-1zM626 463h1v1h-1zM626 469h1v1h-1zM626 475h1v1h-1zM626 481h1v1h-1zM626 487h1v1h-1zM626 493h1v1h-1zM658 31h1v1h-1zM658 37h1v1h-1zM658 43h1v1h-1zM658 49h1v1h-1zM658 55h1v1h-1zM658 61h1v1h-1zM658 67h1v1h-1zM658 73h1v1h-1zM658 79h1v1h-1zM658 85h1v1h-1zM658 91h1v1h-1zM658 97h1v1h-1zM658 103h1v1h-1zM658 109h1v1h-1zM658 115h1v1h-1zM658 121h1v1h-1zM658 127h1v1h-1zM658 133h1v1h-1zM658 139h1v1h-1zM658 145h1v1h-1zM658 151h1v1h-1zM658 157h1v1h-1zM658 163h1v1h-1zM658 169h1v1h-1zM658 175h1v1h-1zM658 181h1v1h-1zM658 187h1v1h-1zM658 193h1v1h-1zM658 199h1v1h-1zM658 205h1v1h-1zM658 211h1v1h-1zM658 217h1v1h-1zM658 223h1v1h-1zM658 229h1v1h-1zM658 235h1v1h-1zM658 241h1v1h-1zM658 247h1v1h-1zM658 253h1v1h-1zM658 259h1v1h-1zM658 265h1v1h-1zM658 271h1v1h-1zM658 277h1v1h-1zM658 283h1v1h-1zM658 289h1v1h-1zM658 295h1v1h-1zM658 301h1v1h-1zM658 307h1v1h-1zM658 313h1v1h-1zM658 319h1v1h-1zM658 325h1v1h-1zM658 331h1v1h-1zM658 337h1v1h-1zM658 343h1v1h-1zM658 349h1v1h-1zM658 355h1v1h-1zM658 361h1v1h-1zM658 367h1v1h-1zM658 373h1v1h-1zM658 379h1v1h-1zM658 385h1v1h-1zM658 391h1v1h-1zM658 397h1v1h-1zM658 403h1v1h-1zM658 409h1v1h-1zM658 415h1v1h-1zM658 421h1v1h-1zM658 427h1v1h-1zM658 433h1v1h-1zM658 439h1v1h-1zM658 445h1v1h-1zM658 451h1v1h-1zM658 457h1v1h-1zM658 463h1v1h-1zM658 469h1v1h-1zM658 475h1v1h-1zM658 481h1v1h-1zM658 487h1v1h-1zM658 493h1v1h-1zM690 31h1v1h-1zM690 37h1v1h-1zM690 43h1v1h-1zM690 49h1v1h-1zM690 55h1v1h-1zM690 61h1v1h-1zM690 67h1v1h-1zM690 73h1v1h-1zM690 79h1v1h-1zM690 85h1v1h-1zM690 91h1v1h-1zM690 97h1v1h-1zM690 103h1v1h-1zM690 109h1v1h-1zM690 115h1v1h-1zM690 121h1v1h-1zM690 127h1v1h-1zM690 133h1v1h-1zM690 139h1v1h-1zM690 145h1v1h-1zM690 151h1v1h-1zM690 157h1v1h-1zM690 163h1v1h-1zM690 169h1v1h-1zM690 175h1v1h-1zM690 181h1v1h-1zM690 187h1v1h-1zM690 193h1v1h-1zM690 199h1v1h-1zM690 205h1v1h-1zM690 211h1v1h-1zM690 217h1v1h-1zM690 223h1v1h-1zM690 229h1v1h-1zM690 235h1v1h-1zM690 241h1v1h-1zM690 247h1v1h-1zM690 253h1v1h-1zM690 259h1v1h-1zM690 265h1v1h-1zM690 271h1v1h-1zM690 277h1v1h-1zM690 283h1v1h-1zM690 289h1v1h-1zM690 295h1v1h-1zM690 301h1v1h-1zM690 307h1v1h-1zM690 313h1v1h-1zM690 319h1v1h-1zM690 325h1v1h-1zM690 331h1v1h-1zM690 337h1v1h-1zM690 343h1v1h-1zM690 349h1v1h-1zM690 355h1v1h-1zM690 361h1v1h-1zM690 367h1v1h-1zM690 373h1v1h-1zM690 379h1v1h-1zM690 385h1v1h-1zM690 391h1v1h-1zM690 397h1v1h-1zM690 403h1v1h-1zM690 409h1v1h-1zM690 415h1v1h-1zM690 421h1v1h-1zM690 427h1v1h-1zM690 433h1v1h-1zM690 439h1v1h-1zM690 445h1v1h-1zM690 451h1v1h-1zM690 457h1v1h-1zM690 463h1v1h-1zM690 469h1v1h-1zM690 475h1v1h-1zM690 481h1v1h-1zM690 487h1v1h-1zM690 493h1v1h-1zM4 59h1v1h-1zM10 59h1v1h-1zM16 59h1v1h-1zM22 59h1v1h-1zM28 59h1v1h-1zM34 59h1v1h-1zM40 59h1v1h-1zM46 59h1v1h-1zM52 59h1v1h-1zM58 59h1v1h-1zM64 59h1v1h-1zM70 59h1v1h-1zM76 59h1v1h-1zM82 59h1v1h-1zM88 59h1v1h-1zM94 59h1v1h-1zM100 59h1v1h-1zM106 59h1v1h-1zM112 59h1v1h-1zM118 59h1v1h-1zM124 59h1v1h-1zM130 59h1v1h-1zM136 59h1v1h-1zM142 59h1v1h-1zM148 59h1v1h-1zM154 59h1v1h-1zM160 59h1v1h-1zM166 59h1v1h-1zM172 59h1v1h-1zM178 59h1v1h-1zM184 59h1v1h-1zM190 59h1v1h-1zM196 59h1v1h-1zM202 59h1v1h-1zM208 59h1v1h-1zM214 59h1v1h-1zM220 59h1v1h-1zM226 59h1v1h-1zM232 59h1v1h-1zM238 59h1v1h-1zM244 59h1v1h-1zM250 59h1v1h-1zM256 59h1v1h-1zM262 59h1v1h-1zM268 59h1v1h-1zM274 59h1v1h-1zM280 59h1v1h-1zM286 59h1v1h-1zM292 59h1v1h-1zM298 59h1v1h-1zM304 59h1v1h-1zM310 59h1v1h-1zM316 59h1v1h-1zM322 59h1v1h-1zM328 59h1v1h-1zM334 59h1v1h-1zM340 59h1v1h-1zM346 59h1v1h-1zM352 59h1v1h-1zM358 59h1v1h-1zM364 59h1v1h-1zM370 59h1v1h-1zM376 59h1v1h-1zM382 59h1v1h-1zM388 59h1v1h-1zM394 59h1v1h-1zM400 59h1v1h-1zM406 59h1v1h-1zM412 59h1v1h-1zM418 59h1v1h-1zM424 59h1v1h-1zM430 59h1v1h-1zM436 59h1v1h-1zM442 59h1v1h-1zM448 59h1v1h-1zM454 59h1v1h-1zM460 59h1v1h-1zM466 59h1v1h-1zM472 59h1v1h-1zM478 59h1v1h-1zM484 59h1v1h-1zM490 59h1v1h-1zM496 59h1v1h-1zM502 59h1v1h-1zM508 59h1v1h-1zM514 59h1v1h-1zM520 59h1v1h-1zM526 59h1v1h-1zM532 59h1v1h-1zM538 59h1v1h-1zM544 59h1v1h-1zM550 59h1v1h-1zM556 59h1v1h-1zM562 59h1v1h-1zM568 59h1v1h-1zM574 59h1v1h-1zM580 59h1v1h-1zM586 59h1v1h-1zM592 59h1v1h-1zM598 59h1v1h-1zM604 59h1v1h-1zM610 59h1v1h-1zM616 59h1v1h-1zM622 59h1v1h-1zM628 59h1v1h-1zM634 59h1v1h-1zM640 59h1v1h-1zM646 59h1v1h-1zM652 59h1v1h-1zM658 59h1v1h-1zM664 59h1v1h-1zM670 59h1v1h-1zM676 59h1v1h-1zM682 59h1v1h-1zM688 59h1v1h-1zM694 59h1v1h-1zM700 59h1v1h-1zM706 59h1v1h-1zM712 59h1v1h-1zM4 91h1v1h-1zM10 91h1v1h-1zM16 91h1v1h-1zM22 91h1v1h-1zM28 91h1v1h-1zM34 91h1v1h-1zM40 91h1v1h-1zM46 91h1v1h-1zM52 91h1v1h-1zM58 91h1v1h-1zM64 91h1v1h-1zM70 91h1v1h-1zM76 91h1v1h-1zM82 91h1v1h-1zM88 91h1v1h-1zM94 91h1v1h-1zM100 91h1v1h-1zM106 91h1v1h-1zM112 91h1v1h-1zM118 91h1v1h-1zM124 91h1v1h-1zM130 91h1v1h-1zM136 91h1v1h-1zM142 91h1v1h-1zM148 91h1v1h-1zM154 91h1v1h-1zM160 91h1v1h-1zM166 91h1v1h-1zM172 91h1v1h-1zM178 91h1v1h-1zM184 91h1v1h-1zM190 91h1v1h-1zM196 91h1v1h-1zM202 91h1v1h-1zM208 91h1v1h-1zM214 91h1v1h-1zM220 91h1v1h-1zM226 91h1v1h-1zM232 91h1v1h-1zM238 91h1v1h-1zM244 91h1v1h-1zM250 91h1v1h-1zM256 91h1v1h-1zM262 91h1v1h-1zM268 91h1v1h-1zM274 91h1v1h-1zM280 91h1v1h-1zM286 91h1v1h-1zM292 91h1v1h-1zM298 91h1v1h-1zM304 91h1v1h-1zM310 91h1v1h-1zM316 91h1v1h-1zM322 91h1v1h-1zM328 91h1v1h-1zM334 91h1v1h-1zM340 91h1v1h-1zM346 91h1v1h-1zM352 91h1v1h-1zM358 91h1v1h-1zM364 91h1v1h-1zM370 91h1v1h-1zM376 91h1v1h-1zM382 91h1v1h-1zM388 91h1v1h-1zM394 91h1v1h-1zM400 91h1v1h-1zM406 91h1v1h-1zM412 91h1v1h-1zM418 91h1v1h-1zM424 91h1v1h-1zM430 91h1v1h-1zM436 91h1v1h-1zM442 91h1v1h-1zM448 91h1v1h-1zM454 91h1v1h-1zM460 91h1v1h-1zM466 91h1v1h-1zM472 91h1v1h-1zM478 91h1v1h-1zM484 91h1v1h-1zM490 91h1v1h-1zM496 91h1v1h-1zM502 91h1v1h-1zM508 91h1v1h-1zM514 91h1v1h-1zM520 91h1v1h-1zM526 91h1v1h-1zM532 91h1v1h-1zM538 91h1v1h-1zM544 91h1v1h-1zM550 91h1v1h-1zM556 91h1v1h-1zM562 91h1v1h-1zM568 91h1v1h-1zM574 91h1v1h-1zM580 91h1v1h-1zM586 91h1v1h-1zM592 91h1v1h-1zM598 91h1v1h-1zM604 91h1v1h-1zM610 91h1v1h-1zM616 91h1v1h-1zM622 91h1v1h-1zM628 91h1v1h-1zM634 91h1v1h-1zM640 91h1v1h-1zM646 91h1v1h-1zM652 91h1v1h-1zM658 91h1v1h-1zM664 91h1v1h-1zM670 91h1v1h-1zM676 91h1v1h-1zM682 91h1v1h-1zM688 91h1v1h-1zM694 91h1v1h-1zM700 91h1v1h-1zM706 91h1v1h-1zM712 91h1v1h-1zM4 123h1v1h-1zM10 123h1v1h-1zM16 123h1v1h-1zM22 123h1v1h-1zM28 123h1v1h-1zM34 123h1v1h-1zM40 123h1v1h-1zM46 123h1v1h-1zM52 123h1v1h-1zM58 123h1v1h-1zM64 123h1v1h-1zM70 123h1v1h-1zM76 123h1v1h-1zM82 123h1v1h-1zM88 123h1v1h-1zM94 123h1v1h-1zM100 123h1v1h-1zM106 123h1v1h-1zM112 123h1v1h-1zM118 123h1v1h-1zM124 123h1v1h-1zM130 123h1v1h-1zM136 123h1v1h-1zM142 123h1v1h-1zM148 123h1v1h-1zM154 123h1v1h-1zM160 123h1v1h-1zM166 123h1v1h-1zM172 123h1v1h-1zM178 123h1v1h-1zM184 123h1v1h-1zM190 123h1v1h-1zM196 123h1v1h-1zM202 123h1v1h-1zM208 123h1v1h-1zM214 123h1v1h-1zM220 123h1v1h-1zM226 123h1v1h-1zM232 123h1v1h-1zM238 123h1v1h-1zM244 123h1v1h-1zM250 123h1v1h-1zM256 123h1v1h-1zM262 123h1v1h-1zM268 123h1v1h-1zM274 123h1v1h-1zM280 123h1v1h-1zM286 123h1v1h-1zM292 123h1v1h-1zM298 123h1v1h-1zM304 123h1v1h-1zM310 123h1v1h-1zM316 123h1v1h-1zM322 123h1v1h-1zM328 123h1v1h-1zM334 123h1v1h-1zM340 123h1v1h-1zM346 123h1v1h-1zM352 123h1v1h-1zM358 123h1v1h-1zM364 123h1v1h-1zM370 123h1v1h-1zM376 123h1v1h-1zM382 123h1v1h-1zM388 123h1v1h-1zM394 123h1v1h-1zM400 123h1v1h-1zM406 123h1v1h-1zM412 123h1v1h-1zM418 123h1v1h-1zM424 123h1v1h-1zM430 123h1v1h-1zM436 123h1v1h-1zM442 123h1v1h-1zM448 123h1v1h-1zM454 123h1v1h-1zM460 123h1v1h-1zM466 123h1v1h-1zM472 123h1v1h-1zM478 123h1v1h-1zM484 123h1v1h-1zM490 123h1v1h-1zM496 123h1v1h-1zM502 123h1v1h-1zM508 123h1v1h-1zM514 123h1v1h-1zM520 123h1v1h-1zM526 123h1v1h-1zM532 123h1v1h-1zM538 123h1v1h-1zM544 123h1v1h-1zM550 123h1v1h-1zM556 123h1v1h-1zM562 123h1v1h-1zM568 123h1v1h-1zM574 123h1v1h-1zM580 123h1v1h-1zM586 123h1v1h-1zM592 123h1v1h-1zM598 123h1v1h-1zM604 123h1v1h-1zM610 123h1v1h-1zM616 123h1v1h-1zM622 123h1v1h-1zM628 123h1v1h-1zM634 123h1v1h-1zM640 123h1v1h-1zM646 123h1v1h-1zM652 123h1v1h-1zM658 123h1v1h-1zM664 123h1v1h-1zM670 123h1v1h-1zM676 123h1v1h-1zM682 123h1v1h-1zM688 123h1v1h-1zM694 123h1v1h-1zM700 123h1v1h-1zM706 123h1v1h-1zM712 123h1v1h-1zM4 155h1v1h-1zM10 155h1v1h-1zM16 155h1v1h-1zM22 155h1v1h-1zM28 155h1v1h-1zM34 155h1v1h-1zM40 155h1v1h-1zM46 155h1v1h-1zM52 155h1v1h-1zM58 155h1v1h-1zM64 155h1v1h-1zM70 155h1v1h-1zM76 155h1v1h-1zM82 155h1v1h-1zM88 155h1v1h-1zM94 155h1v1h-1zM100 155h1v1h-1zM106 155h1v1h-1zM112 155h1v1h-1zM118 155h1v1h-1zM124 155h1v1h-1zM130 155h1v1h-1zM136 155h1v1h-1zM142 155h1v1h-1zM148 155h1v1h-1zM154 155h1v1h-1zM160 155h1v1h-1zM166 155h1v1h-1zM172 155h1v1h-1zM178 155h1v1h-1zM184 155h1v1h-1zM190 155h1v1h-1zM196 155h1v1h-1zM202 155h1v1h-1zM208 155h1v1h-1zM214 155h1v1h-1zM220 155h1v1h-1zM226 155h1v1h-1zM232 155h1v1h-1zM238 155h1v1h-1zM244 155h1v1h-1zM250 155h1v1h-1zM256 155h1v1h-1zM262 155h1v1h-1zM268 155h1v1h-1zM274 155h1v1h-1zM280 155h1v1h-1zM286 155h1v1h-1zM292 155h1v1h-1zM298 155h1v1h-1zM304 155h1v1h-1zM310 155h1v1h-1zM316 155h1v1h-1zM322 155h1v1h-1zM328 155h1v1h-1zM334 155h1v1h-1zM340 155h1v1h-1zM346 155h1v1h-1zM352 155h1v1h-1zM358 155h1v1h-1zM364 155h1v1h-1zM370 155h1v1h-1zM376 155h1v1h-1zM382 155h1v1h-1zM388 155h1v1h-1zM394 155h1v1h-1zM400 155h1v1h-1zM406 155h1v1h-1zM412 155h1v1h-1zM418 155h1v1h-1zM424 155h1v1h-1zM430 155h1v1h-1zM436 155h1v1h-1zM442 155h1v1h-1zM448 155h1v1h-1zM454 155h1v1h-1zM460 155h1v1h-1zM466 155h1v1h-1zM472 155h1v1h-1zM478 155h1v1h-1zM484 155h1v1h-1zM490 155h1v1h-1zM496 155h1v1h-1zM502 155h1v1h-1zM508 155h1v1h-1zM514 155h1v1h-1zM520 155h1v1h-1zM526 155h1v1h-1zM532 155h1v1h-1zM538 155h1v1h-1zM544 155h1v1h-1zM550 155h1v1h-1zM556 155h1v1h-1zM562 155h1v1h-1zM568 155h1v1h-1zM574 155h1v1h-1zM580 155h1v1h-1zM586 155h1v1h-1zM592 155h1v1h-1zM598 155h1v1h-1zM604 155h1v1h-1zM610 155h1v1h-1zM616 155h1v1h-1zM622 155h1v1h-1zM628 155h1v1h-1zM634 155h1v1h-1zM640 155h1v1h-1zM646 155h1v1h-1zM652 155h1v1h-1zM658 155h1v1h-1zM664 155h1v1h-1zM670 155h1v1h-1zM676 155h1v1h-1zM682 155h1v1h-1zM688 155h1v1h-1zM694 155h1v1h-1zM700 155h1v1h-1zM706 155h1v1h-1zM712 155h1v1h-1zM4 187h1v1h-1zM10 187h1v1h-1zM16 187h1v1h-1zM22 187h1v1h-1zM28 187h1v1h-1zM34 187h1v1h-1zM40 187h1v1h-1zM46 187h1v1h-1zM52 187h1v1h-1zM58 187h1v1h-1zM64 187h1v1h-1zM70 187h1v1h-1zM76 187h1v1h-1zM82 187h1v1h-1zM88 187h1v1h-1zM94 187h1v1h-1zM100 187h1v1h-1zM106 187h1v1h-1zM112 187h1v1h-1zM118 187h1v1h-1zM124 187h1v1h-1zM130 187h1v1h-1zM136 187h1v1h-1zM142 187h1v1h-1zM148 187h1v1h-1zM154 187h1v1h-1zM160 187h1v1h-1zM166 187h1v1h-1zM172 187h1v1h-1zM178 187h1v1h-1zM184 187h1v1h-1zM190 187h1v1h-1zM196 187h1v1h-1zM202 187h1v1h-1zM208 187h1v1h-1zM214 187h1v1h-1zM220 187h1v1h-1zM226 187h1v1h-1zM232 187h1v1h-1zM238 187h1v1h-1zM244 187h1v1h-1zM250 187h1v1h-1zM256 187h1v1h-1zM262 187h1v1h-1zM268 187h1v1h-1zM274 187h1v1h-1zM280 187h1v1h-1zM286 187h1v1h-1zM292 187h1v1h-1zM298 187h1v1h-1zM304 187h1v1h-1zM310 187h1v1h-1zM316 187h1v1h-1zM322 187h1v1h-1zM328 187h1v1h-1zM334 187h1v1h-1zM340 187h1v1h-1zM346 187h1v1h-1zM352 187h1v1h-1zM358 187h1v1h-1zM364 187h1v1h-1zM370 187h1v1h-1zM376 187h1v1h-1zM382 187h1v1h-1zM388 187h1v1h-1zM394 187h1v1h-1zM400 187h1v1h-1zM406 187h1v1h-1zM412 187h1v1h-1zM418 187h1v1h-1zM424 187h1v1h-1zM430 187h1v1h-1zM436 187h1v1h-1zM442 187h1v1h-1zM448 187h1v1h-1zM454 187h1v1h-1zM460 187h1v1h-1zM466 187h1v1h-1zM472 187h1v1h-1zM478 187h1v1h-1zM484 187h1v1h-1zM490 187h1v1h-1zM496 187h1v1h-1zM502 187h1v1h-1zM508 187h1v1h-1zM514 187h1v1h-1zM520 187h1v1h-1zM526 187h1v1h-1zM532 187h1v1h-1zM538 187h1v1h-1zM544 187h1v1h-1zM550 187h1v1h-1zM556 187h1v1h-1zM562 187h1v1h-1zM568 187h1v1h-1zM574 187h1v1h-1zM580 187h1v1h-1zM586 187h1v1h-1zM592 187h1v1h-1zM598 187h1v1h-1zM604 187h1v1h-1zM610 187h1v1h-1zM616 187h1v1h-1zM622 187h1v1h-1zM628 187h1v1h-1zM634 187h1v1h-1zM640 187h1v1h-1zM646 187h1v1h-1zM652 187h1v1h-1zM658 187h1v1h-1zM664 187h1v1h-1zM670 187h1v1h-1zM676 187h1v1h-1zM682 187h1v1h-1zM688 187h1v1h-1zM694 187h1v1h-1zM700 187h1v1h-1zM706 187h1v1h-1zM712 187h1v1h-1zM4 219h1v1h-1zM10 219h1v1h-1zM16 219h1v1h-1zM22 219h1v1h-1zM28 219h1v1h-1zM34 219h1v1h-1zM40 219h1v1h-1zM46 219h1v1h-1zM52 219h1v1h-1zM58 219h1v1h-1zM64 219h1v1h-1zM70 219h1v1h-1zM76 219h1v1h-1zM82 219h1v1h-1zM88 219h1v1h-1zM94 219h1v1h-1zM100 219h1v1h-1zM106 219h1v1h-1zM112 219h1v1h-1zM118 219h1v1h-1zM124 219h1v1h-1zM130 219h1v1h-1zM136 219h1v1h-1zM142 219h1v1h-1zM148 219h1v1h-1zM154 219h1v1h-1zM160 219h1v1h-1zM166 219h1v1h-1zM172 219h1v1h-1zM178 219h1v1h-1zM184 219h1v1h-1zM190 219h1v1h-1zM196 219h1v1h-1zM202 219h1v1h-1zM208 219h1v1h-1zM214 219h1v1h-1zM220 219h1v1h-1zM226 219h1v1h-1zM232 219h1v1h-1zM238 219h1v1h-1zM244 219h1v1h-1zM250 219h1v1h-1zM256 219h1v1h-1zM262 219h1v1h-1zM268 219h1v1h-1zM274 219h1v1h-1zM280 219h1v1h-1zM286 219h1v1h-1zM292 219h1v1h-1zM298 219h1v1h-1zM304 219h1v1h-1zM310 219h1v1h-1zM316 219h1v1h-1zM322 219h1v1h-1zM328 219h1v1h-1zM334 219h1v1h-1zM340 219h1v1h-1zM346 219h1v1h-1zM352 219h1v1h-1zM358 219h1v1h-1zM364 219h1v1h-1zM370 219h1v1h-1zM376 219h1v1h-1zM382 219h1v1h-1zM388 219h1v1h-1zM394 219h1v1h-1zM400 219h1v1h-1zM406 219h1v1h-1zM412 219h1v1h-1zM418 219h1v1h-1zM424 219h1v1h-1zM430 219h1v1h-1zM436 219h1v1h-1zM442 219h1v1h-1zM448 219h1v1h-1zM454 219h1v1h-1zM460 219h1v1h-1zM466 219h1v1h-1zM472 219h1v1h-1zM478 219h1v1h-1zM484 219h1v1h-1zM490 219h1v1h-1zM496 219h1v1h-1zM502 219h1v1h-1zM508 219h1v1h-1zM514 219h1v1h-1zM520 219h1v1h-1zM526 219h1v1h-1zM532 219h1v1h-1zM538 219h1v1h-1zM544 219h1v1h-1zM550 219h1v1h-1zM556 219h1v1h-1zM562 219h1v1h-1zM568 219h1v1h-1zM574 219h1v1h-1zM580 219h1v1h-1zM586 219h1v1h-1zM592 219h1v1h-1zM598 219h1v1h-1zM604 219h1v1h-1zM610 219h1v1h-1zM616 219h1v1h-1zM622 219h1v1h-1zM628 219h1v1h-1zM634 219h1v1h-1zM640 219h1v1h-1zM646 219h1v1h-1zM652 219h1v1h-1zM658 219h1v1h-1zM664 219h1v1h-1zM670 219h1v1h-1zM676 219h1v1h-1zM682 219h1v1h-1zM688 219h1v1h-1zM694 219h1v1h-1zM700 219h1v1h-1zM706 219h1v1h-1zM712 219h1v1h-1zM4 251h1v1h-1zM10 251h1v1h-1zM16 251h1v1h-1zM22 251h1v1h-1zM28 251h1v1h-1zM34 251h1v1h-1zM40 251h1v1h-1zM46 251h1v1h-1zM52 251h1v1h-1zM58 251h1v1h-1zM64 251h1v1h-1zM70 251h1v1h-1zM76 251h1v1h-1zM82 251h1v1h-1zM88 251h1v1h-1zM94 251h1v1h-1zM100 251h1v1h-1zM106 251h1v1h-1zM112 251h1v1h-1zM118 251h1v1h-1zM124 251h1v1h-1zM130 251h1v1h-1zM136 251h1v1h-1zM142 251h1v1h-1zM148 251h1v1h-1zM154 251h1v1h-1zM160 251h1v1h-1zM166 251h1v1h-1zM172 251h1v1h-1zM178 251h1v1h-1zM184 251h1v1h-1zM190 251h1v1h-1zM196 251h1v1h-1zM202 251h1v1h-1zM208 251h1v1h-1zM214 251h1v1h-1zM220 251h1v1h-1zM226 251h1v1h-1zM232 251h1v1h-1zM238 251h1v1h-1zM244 251h1v1h-1zM250 251h1v1h-1zM256 251h1v1h-1zM262 251h1v1h-1zM268 251h1v1h-1zM274 251h1v1h-1zM280 251h1v1h-1zM286 251h1v1h-1zM292 251h1v1h-1zM298 251h1v1h-1zM304 251h1v1h-1zM310 251h1v1h-1zM316 251h1v1h-1zM322 251h1v1h-1zM328 251h1v1h-1zM334 251h1v1h-1zM340 251h1v1h-1zM346 251h1v1h-1zM352 251h1v1h-1zM358 251h1v1h-1zM364 251h1v1h-1zM370 251h1v1h-1zM376 251h1v1h-1zM382 251h1v1h-1zM388 251h1v1h-1zM394 251h1v1h-1zM400 251h1v1h-1zM406 251h1v1h-1zM412 251h1v1h-1zM418 251h1v1h-1zM424 251h1v1h-1zM430 251h1v1h-1zM436 251h1v1h-1zM442 251h1v1h-1zM448 251h1v1h-1zM454 251h1v1h-1zM460 251h1v1h-1zM466 251h1v1h-1zM472 251h1v1h-1zM478 251h1v1h-1zM484 251h1v1h-1zM490 251h1v1h-1zM496 251h1v1h-1zM502 251h1v1h-1zM508 251h1v1h-1zM514 251h1v1h-1zM520 251h1v1h-1zM526 251h1v1h-1zM532 251h1v1h-1zM538 251h1v1h-1zM544 251h1v1h-1zM550 251h1v1h-1zM556 251h1v1h-1zM562 251h1v1h-1zM568 251h1v1h-1zM574 251h1v1h-1zM580 251h1v1h-1zM586 251h1v1h-1zM592 251h1v1h-1zM598 251h1v1h-1zM604 251h1v1h-1zM610 251h1v1h-1zM616 251h1v1h-1zM622 251h1v1h-1zM628 251h1v1h-1zM634 251h1v1h-1zM640 251h1v1h-1zM646 251h1v1h-1zM652 251h1v1h-1zM658 251h1v1h-1zM664 251h1v1h-1zM670 251h1v1h-1zM676 251h1v1h-1zM682 251h1v1h-1zM688 251h1v1h-1zM694 251h1v1h-1zM700 251h1v1h-1zM706 251h1v1h-1zM712 251h1v1h-1zM4 283h1v1h-1zM10 283h1v1h-1zM16 283h1v1h-1zM22 283h1v1h-1zM28 283h1v1h-1zM34 283h1v1h-1zM40 283h1v1h-1zM46 283h1v1h-1zM52 283h1v1h-1zM58 283h1v1h-1zM64 283h1v1h-1zM70 283h1v1h-1zM76 283h1v1h-1zM82 283h1v1h-1zM88 283h1v1h-1zM94 283h1v1h-1zM100 283h1v1h-1zM106 283h1v1h-1zM112 283h1v1h-1zM118 283h1v1h-1zM124 283h1v1h-1zM130 283h1v1h-1zM136 283h1v1h-1zM142 283h1v1h-1zM148 283h1v1h-1zM154 283h1v1h-1zM160 283h1v1h-1zM166 283h1v1h-1zM172 283h1v1h-1zM178 283h1v1h-1zM184 283h1v1h-1zM190 283h1v1h-1zM196 283h1v1h-1zM202 283h1v1h-1zM208 283h1v1h-1zM214 283h1v1h-1zM220 283h1v1h-1zM226 283h1v1h-1zM232 283h1v1h-1zM238 283h1v1h-1zM244 283h1v1h-1zM250 283h1v1h-1zM256 283h1v1h-1zM262 283h1v1h-1zM268 283h1v1h-1zM274 283h1v1h-1zM280 283h1v1h-1zM286 283h1v1h-1zM292 283h1v1h-1zM298 283h1v1h-1zM304 283h1v1h-1zM310 283h1v1h-1zM316 283h1v1h-1zM322 283h1v1h-1zM328 283h1v1h-1zM334 283h1v1h-1zM340 283h1v1h-1zM346 283h1v1h-1zM352 283h1v1h-1zM358 283h1v1h-1zM364 283h1v1h-1zM370 283h1v1h-1zM376 283h1v1h-1zM382 283h1v1h-1zM388 283h1v1h-1zM394 283h1v1h-1zM400 283h1v1h-1zM406 283h1v1h-1zM412 283h1v1h-1zM418 283h1v1h-1zM424 283h1v1h-1zM430 283h1v1h-1zM436 283h1v1h-1zM442 283h1v1h-1zM448 283h1v1h-1zM454 283h1v1h-1zM460 283h1v1h-1zM466 283h1v1h-1zM472 283h1v1h-1zM478 283h1v1h-1zM484 283h1v1h-1zM490 283h1v1h-1zM496 283h1v1h-1zM502 283h1v1h-1zM508 283h1v1h-1zM514 283h1v1h-1zM520 283h1v1h-1zM526 283h1v1h-1zM532 283h1v1h-1zM538 283h1v1h-1zM544 283h1v1h-1zM550 283h1v1h-1zM556 283h1v1h-1zM562 283h1v1h-1zM568 283h1v1h-1zM574 283h1v1h-1zM580 283h1v1h-1zM586 283h1v1h-1zM592 283h1v1h-1zM598 283h1v1h-1zM604 283h1v1h-1zM610 283h1v1h-1zM616 283h1v1h-1zM622 283h1v1h-1zM628 283h1v1h-1zM634 283h1v1h-1zM640 283h1v1h-1zM646 283h1v1h-1zM652 283h1v1h-1zM658 283h1v1h-1zM664 283h1v1h-1zM670 283h1v1h-1zM676 283h1v1h-1zM682 283h1v1h-1zM688 283h1v1h-1zM694 283h1v1h-1zM700 283h1v1h-1zM706 283h1v1h-1zM712 283h1v1h-1zM4 315h1v1h-1zM10 315h1v1h-1zM16 315h1v1h-1zM22 315h1v1h-1zM28 315h1v1h-1zM34 315h1v1h-1zM40 315h1v1h-1zM46 315h1v1h-1zM52 315h1v1h-1zM58 315h1v1h-1zM64 315h1v1h-1zM70 315h1v1h-1zM76 315h1v1h-1zM82 315h1v1h-1zM88 315h1v1h-1zM94 315h1v1h-1zM100 315h1v1h-1zM106 315h1v1h-1zM112 315h1v1h-1zM118 315h1v1h-1zM124 315h1v1h-1zM130 315h1v1h-1zM136 315h1v1h-1zM142 315h1v1h-1zM148 315h1v1h-1zM154 315h1v1h-1zM160 315h1v1h-1zM166 315h1v1h-1zM172 315h1v1h-1zM178 315h1v1h-1zM184 315h1v1h-1zM190 315h1v1h-1zM196 315h1v1h-1zM202 315h1v1h-1zM208 315h1v1h-1zM214 315h1v1h-1zM220 315h1v1h-1zM226 315h1v1h-1zM232 315h1v1h-1zM238 315h1v1h-1zM244 315h1v1h-1zM250 315h1v1h-1zM256 315h1v1h-1zM262 315h1v1h-1zM268 315h1v1h-1zM274 315h1v1h-1zM280 315h1v1h-1zM286 315h1v1h-1zM292 315h1v1h-1zM298 315h1v1h-1zM304 315h1v1h-1zM310 315h1v1h-1zM316 315h1v1h-1zM322 315h1v1h-1zM328 315h1v1h-1zM334 315h1v1h-1zM340 315h1v1h-1zM346 315h1v1h-1zM352 315h1v1h-1zM358 315h1v1h-1zM364 315h1v1h-1zM370 315h1v1h-1zM376 315h1v1h-1zM382 315h1v1h-1zM388 315h1v1h-1zM394 315h1v1h-1zM400 315h1v1h-1zM406 315h1v1h-1zM412 315h1v1h-1zM418 315h1v1h-1zM424 315h1v1h-1zM430 315h1v1h-1zM436 315h1v1h-1zM442 315h1v1h-1zM448 315h1v1h-1zM454 315h1v1h-1zM460 315h1v1h-1zM466 315h1v1h-1zM472 315h1v1h-1zM478 315h1v1h-1zM484 315h1v1h-1zM490 315h1v1h-1zM496 315h1v1h-1zM502 315h1v1h-1zM508 315h1v1h-1zM514 315h1v1h-1zM520 315h1v1h-1zM526 315h1v1h-1zM532 315h1v1h-1zM538 315h1v1h-1zM544 315h1v1h-1zM550 315h1v1h-1zM556 315h1v1h-1zM562 315h1v1h-1zM568 315h1v1h-1zM574 315h1v1h-1zM580 315h1v1h-1zM586 315h1v1h-1zM592 315h1v1h-1zM598 315h1v1h-1zM604 315h1v1h-1zM610 315h1v1h-1zM616 315h1v1h-1zM622 315h1v1h-1zM628 315h1v1h-1zM634 315h1v1h-1zM640 315h1v1h-1zM646 315h1v1h-1zM652 315h1v1h-1zM658 315h1v1h-1zM664 315h1v1h-1zM670 315h1v1h-1zM676 315h1v1h-1zM682 315h1v1h-1zM688 315h1v1h-1zM694 315h1v1h-1zM700 315h1v1h-1zM706 315h1v1h-1zM712 315h1v1h-1zM4 347h1v1h-1zM10 347h1v1h-1zM16 347h1v1h-1zM22 347h1v1h-1zM28 347h1v1h-1zM34 347h1v1h-1zM40 347h1v1h-1zM46 347h1v1h-1zM52 347h1v1h-1zM58 347h1v1h-1zM64 347h1v1h-1zM70 347h1v1h-1zM76 347h1v1h-1zM82 347h1v1h-1zM88 347h1v1h-1zM94 347h1v1h-1zM100 347h1v1h-1zM106 347h1v1h-1zM112 347h1v1h-1zM118 347h1v1h-1zM124 347h1v1h-1zM130 347h1v1h-1zM136 347h1v1h-1zM142 347h1v1h-1zM148 347h1v1h-1zM154 347h1v1h-1zM160 347h1v1h-1zM166 347h1v1h-1zM172 347h1v1h-1zM178 347h1v1h-1zM184 347h1v1h-1zM190 347h1v1h-1zM196 347h1v1h-1zM202 347h1v1h-1zM208 347h1v1h-1zM214 347h1v1h-1zM220 347h1v1h-1zM226 347h1v1h-1zM232 347h1v1h-1zM238 347h1v1h-1zM244 347h1v1h-1zM250 347h1v1h-1zM256 347h1v1h-1zM262 347h1v1h-1zM268 347h1v1h-1zM274 347h1v1h-1zM280 347h1v1h-1zM286 347h1v1h-1zM292 347h1v1h-1zM298 347h1v1h-1zM304 347h1v1h-1zM310 347h1v1h-1zM316 347h1v1h-1zM322 347h1v1h-1zM328 347h1v1h-1zM334 347h1v1h-1zM340 347h1v1h-1zM346 347h1v1h-1zM352 347h1v1h-1zM358 347h1v1h-1zM364 347h1v1h-1zM370 347h1v1h-1zM376 347h1v1h-1zM382 347h1v1h-1zM388 347h1v1h-1zM394 347h1v1h-1zM400 347h1v1h-1zM406 347h1v1h-1zM412 347h1v1h-1zM418 347h1v1h-1zM424 347h1v1h-1zM430 347h1v1h-1zM436 347h1v1h-1zM442 347h1v1h-1zM448 347h1v1h-1zM454 347h1v1h-1zM460 347h1v1h-1zM466 347h1v1h-1zM472 347h1v1h-1zM478 347h1v1h-1zM484 347h1v1h-1zM490 347h1v1h-1zM496 347h1v1h-1zM502 347h1v1h-1zM508 347h1v1h-1zM514 347h1v1h-1zM520 347h1v1h-1zM526 347h1v1h-1zM532 347h1v1h-1zM538 347h1v1h-1zM544 347h1v1h-1zM550 347h1v1h-1zM556 347h1v1h-1zM562 347h1v1h-1zM568 347h1v1h-1zM574 347h1v1h-1zM580 347h1v1h-1zM586 347h1v1h-1zM592 347h1v1h-1zM598 347h1v1h-1zM604 347h1v1h-1zM610 347h1v1h-1zM616 347h1v1h-1zM622 347h1v1h-1zM628 347h1v1h-1zM634 347h1v1h-1zM640 347h1v1h-1zM646 347h1v1h-1zM652 347h1v1h-1zM658 347h1v1h-1zM664 347h1v1h-1zM670 347h1v1h-1zM676 347h1v1h-1zM682 347h1v1h-1zM688 347h1v1h-1zM694 347h1v1h-1zM700 347h1v1h-1zM706 347h1v1h-1zM712 347h1v1h-1zM4 379h1v1h-1zM10 379h1v1h-1zM16 379h1v1h-1zM22 379h1v1h-1zM28 379h1v1h-1zM34 379h1v1h-1zM40 379h1v1h-1zM46 379h1v1h-1zM52 379h1v1h-1zM58 379h1v1h-1zM64 379h1v1h-1zM70 379h1v1h-1zM76 379h1v1h-1zM82 379h1v1h-1zM88 379h1v1h-1zM94 379h1v1h-1zM100 379h1v1h-1zM106 379h1v1h-1zM112 379h1v1h-1zM118 379h1v1h-1zM124 379h1v1h-1zM130 379h1v1h-1zM136 379h1v1h-1zM142 379h1v1h-1zM148 379h1v1h-1zM154 379h1v1h-1zM160 379h1v1h-1zM166 379h1v1h-1zM172 379h1v1h-1zM178 379h1v1h-1zM184 379h1v1h-1zM190 379h1v1h-1zM196 379h1v1h-1zM202 379h1v1h-1zM208 379h1v1h-1zM214 379h1v1h-1zM220 379h1v1h-1zM226 379h1v1h-1zM232 379h1v1h-1zM238 379h1v1h-1zM244 379h1v1h-1zM250 379h1v1h-1zM256 379h1v1h-1zM262 379h1v1h-1zM268 379h1v1h-1zM274 379h1v1h-1zM280 379h1v1h-1zM286 379h1v1h-1zM292 379h1v1h-1zM298 379h1v1h-1zM304 379h1v1h-1zM310 379h1v1h-1zM316 379h1v1h-1zM322 379h1v1h-1zM328 379h1v1h-1zM334 379h1v1h-1zM340 379h1v1h-1zM346 379h1v1h-1zM352 379h1v1h-1zM358 379h1v1h-1zM364 379h1v1h-1zM370 379h1v1h-1zM376 379h1v1h-1zM382 379h1v1h-1zM388 379h1v1h-1zM394 379h1v1h-1zM400 379h1v1h-1zM406 379h1v1h-1zM412 379h1v1h-1zM418 379h1v1h-1zM424 379h1v1h-1zM430 379h1v1h-1zM436 379h1v1h-1zM442 379h1v1h-1zM448 379h1v1h-1zM454 379h1v1h-1zM460 379h1v1h-1zM466 379h1v1h-1zM472 379h1v1h-1zM478 379h1v1h-1zM484 379h1v1h-1zM490 379h1v1h-1zM496 379h1v1h-1zM502 379h1v1h-1zM508 379h1v1h-1zM514 379h1v1h-1zM520 379h1v1h-1zM526 379h1v1h-1zM532 379h1v1h-1zM538 379h1v1h-1zM544 379h1v1h-1zM550 379h1v1h-1zM556 379h1v1h-1zM562 379h1v1h-1zM568 379h1v1h-1zM574 379h1v1h-1zM580 379h1v1h-1zM586 379h1v1h-1zM592 379h1v1h-1zM598 379h1v1h-1zM604 379h1v1h-1zM610 379h1v1h-1zM616 379h1v1h-1zM622 379h1v1h-1zM628 379h1v1h-1zM634 379h1v1h-1zM640 379h1v1h-1zM646 379h1v1h-1zM652 379h1v1h-1zM658 379h1v1h-1zM664 379h1v1h-1zM670 379h1v1h-1zM676 379h1v1h-1zM682 379h1v1h-1zM688 379h1v1h-1zM694 379h1v1h-1zM700 379h1v1h-1zM706 379h1v1h-1zM712 379h1v1h-1z"/>
<path d="M0 343h1v1h-1zM2 343h1v1h-1zM4 343h1v1h-1zM6 343h1v1h-1zM8 343h1v1h-1zM10 343h1v1h-1zM12 343h1v1h-1zM14 343h1v1h-1zM16 343h1v1h-1zM18 343h1v1h-1zM20 343h1v1h-1zM22 343h1v1h-1zM24 343h1v1h-1zM26 343h1v1h-1zM28 343h1v1h-1zM30 343h1v1h-1zM32 343h1v1h-1zM34 343h1v1h-1zM36 343h1v1h-1zM38 343h1v1h-1zM40 343h1v1h-1zM42 343h1v1h-1zM44 343h1v1h-1zM46 343h1v1h-1zM48 343h1v1h-1zM50 343h1v1h-1zM52 343h1v1h-1zM54 343h1v1h-1zM56 343h1v1h-1zM58 343h1v1h-1zM60 343h1v1h-1zM62 343h1v1h-1zM64 343h1v1h-1zM66 343h1v1h-1zM68 343h1v1h-1zM70 343h1v1h-1zM72 343h1v1h-1zM74 343h1v1h-1zM76 343h1v1h-1zM78 343h1v1h-1zM80 343h1v1h-1zM82 343h1v1h-1zM84 343h1v1h-1zM86 343h1v1h-1zM88 343h1v1h-1zM90 343h1v1h-1zM92 343h1v1h-1zM94 343h1v1h-1zM96 343h1v1h-1zM98 343h1v1h-1zM100 343h1v1h-1zM102 343h1v1h-1zM104 343h1v1h-1zM106 343h1v1h-1zM108 343h1v1h-1zM110 343h1v1h-1zM112 343h1v1h-1zM114 343h1v1h-1zM116 343h1v1h-1zM118 343h1v1h-1zM120 343h1v1h-1zM122 343h1v1h-1zM124 343h1v1h-1zM126 343h1v1h-1zM128 343h1v1h-1zM130 343h1v1h-1zM132 343h1v1h-1zM134 343h1v1h-1zM136 343h1v1h-1zM138 343h1v1h-1zM140 343h1v1h-1zM142 343h1v1h-1zM144 343h1v1h-1zM146 343h1v1h-1zM148 343h1v1h-1zM150 343h1v1h-1zM152 343h1v1h-1zM154 343h1v1h-1zM156 343h1v1h-1zM158 343h1v1h-1zM160 343h1v1h-1zM162 343h1v1h-1zM164 343h1v1h-1zM166 343h1v1h-1zM168 343h1v1h-1zM170 343h1v1h-1zM172 343h1v1h-1zM174 343h1v1h-1zM176 343h1v1h-1zM178 343h1v1h-1zM180 343h1v1h-1zM182 343h1v1h-1zM184 343h1v1h-1zM186 343h1v1h-1zM188 343h1v1h-1zM190 343h1v1h-1zM192 343h1v1h-1zM194 343h1v1h-1zM196 343h1v1h-1zM198 343h1v1h-1zM200 343h1v1h-1zM202 343h1v1h-1zM204 343h1v1h-1zM206 343h1v1h-1zM208 343h1v1h-1zM210 343h1v1h-1zM212 343h1v1h-1zM214 343h1v1h-1zM216 343h1v1h-1zM218 343h1v1h-1zM220 343h1v1h-1zM222 343h1v1h-1zM224 343h1v1h-1zM226 343h1v1h-1zM228 343h1v1h-1zM230 343h1v1h-1zM232 343h1v1h-1zM234 343h1v1h-1zM236 343h1v1h-1zM238 343h1v1h-1zM240 343h1v1h-1zM242 343h1v1h-1zM244 343h1v1h-1zM246 343h1v1h-1zM248 343h1v1h-1zM250 343h1v1h-1zM252 343h1v1h-1zM254 343h1v1h-1zM256 343h1v1h-1zM258 343h1v1h-1zM260 343h1v1h-1zM262 343h1v1h-1zM264 343h1v1h-1zM266 343h1v1h-1zM268 343h1v1h-1zM270 343h1v1h-1zM272 343h1v1h-1zM274 343h1v1h-1zM276 343h1v1h-1zM278 343h1v1h-1zM280 343h1v1h-1zM282 343h1v1h-1zM284 343h1v1h-1zM286 343h1v1h-1zM288 343h1v1h-1zM290 343h1v1h-1zM292 343h1v1h-1zM294 343h1v1h-1zM296 343h1v1h-1zM298 343h1v1h-1zM300 343h1v1h-1zM302 343h1v1h-1zM304 343h1v1h-1zM306 343h1v1h-1zM308 343h1v1h-1zM310 343h1v1h-1zM312 343h1v1h-1zM314 343h1v1h-1zM316 343h1v1h-1zM318 343h1v1h-1zM320 343h1v1h-1zM322 343h1v1h-1zM324 343h1v1h-1zM326 343h1v1h-1zM328 343h1v1h-1zM330 343h1v1h-1zM332 343h1v1h-1zM334 343h1v1h-1zM336 343h1v1h-1zM338 343h1v1h-1zM340 343h1v1h-1zM342 343h1v1h-1zM344 343h1v1h-1zM346 343h1v1h-1zM348 343h1v1h-1zM350 343h1v1h-1zM352 343h1v1h-1zM354 343h1v1h-1zM356 343h1v1h-1zM358 343h1v1h-1zM360 343h1v1h-1zM362 343h1v1h-1zM364 343h1v1h-1zM366 343h1v1h-1zM368 343h1v1h-1zM370 343h1v1h-1zM372 343h1v1h-1zM374 343h1v1h-1zM376 343h1v1h-1zM378 343h1v1h-1zM380 343h1v1h-1zM382 343h1v1h-1zM384 343h1v1h-1zM386 343h1v1h-1zM388 343h1v1h-1zM390 343h1v1h-1zM392 343h1v1h-1zM394 343h1v1h-1zM396 343h1v1h-1zM398 343h1v1h-1zM400 343h1v1h-1zM402 343h1v1h-1zM404 343h1v1h-1zM406 343h1v1h-1zM408 343h1v1h-1zM410 343h1v1h-1zM412 343h1v1h-1zM414 343h1v1h-1zM416 343h1v1h-1zM418 343h1v1h-1zM420 343h1v1h-1zM422 343h1v1h-1zM424 343h1v1h-1zM426 343h1v1h-1zM428 343h1v1h-1zM430 343h1v1h-1zM432 343h1v1h-1zM434 343h1v1h-1zM436 343h1v1h-1zM438 343h1v1h-1zM440 343h1v1h-1zM442 343h1v1h-1zM444 343h1v1h-1zM446 343h1v1h-1zM448 343h1v1h-1zM450 343h1v1h-1zM452 343h1v1h-1zM454 343h1v1h-1zM456 343h1v1h-1zM458 343h1v1h-1zM460 343h1v1h-1zM462 343h1v1h-1zM464 343h1v1h-1zM466 343h1v1h-1zM468 343h1v1h-1zM470 343h1v1h-1zM472 343h1v1h-1zM474 343h1v1h-1zM476 343h1v1h-1zM478 343h1v1h-1zM480 343h1v1h-1zM482 343h1v1h-1zM484 343h1v1h-1zM486 343h1v1h-1zM488 343h1v1h-1zM490 343h1v1h-1zM492 343h1v1h-1zM494 343h1v1h-1zM496 343h1v1h-1zM498 343h1v1h-1zM500 343h1v1h-1zM502 343h1v1h-1zM504 343h1v1h-1zM506 343h1v1h-1zM508 343h1v1h-1zM510 343h1v1h-1zM512 343h1v1h-1zM514 343h1v1h-1zM516 343h1v1h-1zM518 343h1v1h-1zM520 343h1v1h-1zM522 343h1v1h-1zM524 343h1v1h-1zM526 343h1v1h-1zM528 343h1v1h-1zM530 343h1v1h-1zM532 343h1v1h-1zM534 343h1v1h-1zM536 343h1v1h-1zM538 343h1v1h-1zM540 343h1v1h-1zM542 343h1v1h-1zM544 343h1v1h-1zM546 343h1v1h-1zM548 343h1v1h-1zM550 343h1v1h-1zM552 343h1v1h-1zM554 343h1v1h-1zM556 343h1v1h-1zM558 343h1v1h-1zM560 343h1v1h-1zM562 343h1v1h-1zM564 343h1v1h-1zM566 343h1v1h-1zM568 343h1v1h-1zM570 343h1v1h-1zM572 343h1v1h-1zM574 343h1v1h-1zM576 343h1v1h-1zM578 343h1v1h-1zM580 343h1v1h-1zM582 343h1v1h-1zM584 343h1v1h-1zM586 343h1v1h-1zM588 343h1v1h-1zM590 343h1v1h-1zM592 343h1v1h-1zM594 343h1v1h-1zM596 343h1v1h-1zM598 343h1v1h-1zM600 343h1v1h-1zM602 343h1v1h-1zM604 343h1v1h-1zM606 343h1v1h-1zM608 343h1v1h-1zM610 343h1v1h-1zM612 343h1v1h-1zM614 343h1v1h-1zM616 343h1v1h-1zM618 343h1v1h-1zM620 343h1v1h-1zM622 343h1v1h-1zM624 343h1v1h-1zM626 343h1v1h-1zM628 343h1v1h-1zM630 343h1v1h-1zM632 343h1v1h-1zM634 343h1v1h-1zM636 343h1v1h-1zM638 343h1v1h-1zM640 343h1v1h-1zM642 343h1v1h-1zM644 343h1v1h-1zM646 343h1v1h-1zM648 343h1v1h-1zM650 343h1v1h-1zM652 343h1v1h-1zM654 343h1v1h-1zM656 343h1v1h-1zM658 343h1v1h-1zM660 343h1v1h-1zM662 343h1v1h-1zM664 343h1v1h-1zM666 343h1v1h-1zM668 343h1v1h-1zM670 343h1v1h-1zM672 343h1v1h-1zM674 343h1v1h-1zM676 343h1v1h-1zM678 343h1v1h-1zM680 343h1v1h-1zM682 343h1v1h-1zM684 343h1v1h-1zM686 343h1v1h-1zM688 343h1v1h-1zM690 343h1v1h-1zM692 343h1v1h-1zM694 343h1v1h-1zM696 343h1v1h-1zM698 343h1v1h-1zM700 343h1v1h-1zM702 343h1v1h-1zM704 343h1v1h-1zM706 343h1v1h-1zM708 343h1v1h-1zM710 343h1v1h-1zM712 343h1v1h-1zM714 343h1v1h-1z" fill="#bcbcbc"/>
<path d="M0 402h1v1h-1zM2 402h1v1h-1zM4 402h1v1h-1zM6 402h1v1h-1zM8 402h1v1h-1zM10 402h1v1h-1zM12 402h1v1h-1zM14 402h1v1h-1zM16 402h1v1h-1zM18 402h1v1h-1zM20 402h1v1h-1zM22 402h1v1h-1zM24 402h1v1h-1zM26 402h1v1h-1zM28 402h1v1h-1zM30 402h1v1h-1zM32 402h1v1h-1zM34 402h1v1h-1zM36 402h1v1h-1zM38 402h1v1h-1zM40 402h1v1h-1zM42 402h1v1h-1zM44 402h1v1h-1zM46 402h1v1h-1zM48 402h1v1h-1zM50 402h1v1h-1zM52 402h1v1h-1zM54 402h1v1h-1zM56 402h1v1h-1zM58 402h1v1h-1zM60 402h1v1h-1zM62 402h1v1h-1zM64 402h1v1h-1zM66 402h1v1h-1zM68 402h1v1h-1zM70 402h1v1h-1zM72 402h1v1h-1zM74 402h1v1h-1zM76 402h1v1h-1zM78 402h1v1h-1zM80 402h1v1h-1zM82 402h1v1h-1zM84 402h1v1h-1zM86 402h1v1h-1zM88 402h1v1h-1zM90 402h1v1h-1zM92 402h1v1h-1zM94 402h1v1h-1zM96 402h1v1h-1zM98 402h1v1h-1zM100 402h1v1h-1zM102 402h1v1h-1zM104 402h1v1h-1zM106 402h1v1h-1zM108 402h1v1h-1zM110 402h1v1h-1zM112 402h1v1h-1zM114 402h1v1h-1zM116 402h1v1h-1zM118 402h1v1h-1zM120 402h1v1h-1zM122 402h1v1h-1zM124 402h1v1h-1zM126 402h1v1h-1zM128 402h1v1h-1zM130 402h1v1h-1zM132 402h1v1h-1zM134 402h1v1h-1zM136 402h1v1h-1zM138 402h1v1h-1zM140 402h1v1h-1zM142 402h1v1h-1zM144 402h1v1h-1zM146 402h1v1h-1zM148 402h1v1h-1zM150 402h1v1h-1zM152 402h1v1h-1zM154 402h1v1h-1zM156 402h1v1h-1zM158 402h1v1h-1zM160 402h1v1h-1zM162 402h1v1h-1zM164 402h1v1h-1zM166 402h1v1h-1zM168 402h1v1h-1zM170 402h1v1h-1zM172 402h1v1h-1zM174 402h1v1h-1zM176 402h1v1h-1zM178 402h1v1h-1zM180 402h1v1h-1zM182 402h1v1h-1zM184 402h1v1h-1zM186 402h1v1h-1zM188 402h1v1h-1zM190 402h1v1h-1zM192 402h1v1h-1zM194 402h1v1h-1zM196 402h1v1h-1zM198 402h1v1h-1zM200 402h1v1h-1zM202 402h1v1h-1zM204 402h1v1h-1zM206 402h1v1h-1zM208 402h1v1h-1zM210 402h1v1h-1zM212 402h1v1h-1zM214 402h1v1h-1zM216 402h1v1h-1zM218 402h1v1h-1zM220 402h1v1h-1zM222 402h1v1h-1zM224 402h1v1h-1zM226 402h1v1h-1zM228 402h1v1h-1zM230 402h1v1h-1zM232 402h1v1h-1zM234 402h1v1h-1zM236 402h1v1h-1zM238 402h1v1h-1zM240 402h1v1h-1zM242 402h1v1h-1zM244 402h1v1h-1zM246 402h1v1h-1zM248 402h1v1h-1zM250 402h1v1h-1zM252 402h1v1h-1zM254 402h1v1h-1zM256 402h1v1h-1zM258 402h1v1h-1zM260 402h1v1h-1zM262 402h1v1h-1zM264 402h1v1h-1zM266 402h1v1h-1zM268 402h1v1h-1zM270 402h1v1h-1zM272 402h1v1h-1zM274 402h1v1h-1zM276 402h1v1h-1zM278 402h1v1h-1zM280 402h1v1h-1zM282 402h1v1h-1zM284 402h1v1h-1zM286 402h1v1h-1zM288 402h1v1h-1zM290 402h1v1h-1zM292 402h1v1h-1zM294 402h1v1h-1zM296 402h1v1h-1zM298 402h1v1h-1zM300 402h1v1h-1zM302 402h1v1h-1zM304 402h1v1h-1zM306 402h1v1h-1zM308 402h1v1h-1zM310 402h1v1h-1zM312 402h1v1h-1zM314 402h1v1h-1zM316 402h1v1h-1zM318 402h1v1h-1zM320 402h1v1h-1zM322 402h1v1h-1zM324 402h1v1h-1zM326 402h1v1h-1zM328 402h1v1h-1zM330 402h1v1h-1zM332 402h1v1h-1zM334 402h1v1h-1zM336 402h1v1h-1zM338 402h1v1h-1zM340 402h1v1h-1zM342 402h1v1h-1zM344 402h1v1h-1zM346 402h1v1h-1zM348 402h1v1h-1zM350 402h1v1h-1zM352 402h1v1h-1zM354 402h1v1h-1zM356 402h1v1h-1zM358 402h1v1h-1zM360 402h1v1h-1zM362 402h1v1h-1zM364 402h1v1h-1zM366 402h1v1h-1zM368 402h1v1h-1zM370 402h1v1h-1zM372 402h1v1h-1zM374 402h1v1h-1zM376 402h1v1h-1zM378 402h1v1h-1zM380 402h1v1h-1zM382 402h1v1h-1zM384 402h1v1h-1zM386 402h1v1h-1zM388 402h1v1h-1zM390 402h1v1h-1zM392 402h1v1h-1zM394 402h1v1h-1zM396 402h1v1h-1zM398 402h1v1h-1zM400 402h1v1h-1zM402 402h1v1h-1zM404 402h1v1h-1zM406 402h1v1h-1zM408 402h1v1h-1zM410 402h1v1h-1zM412 402h1v1h-1zM414 402h1v1h-1zM416 402h1v1h-1zM418 402h1v1h-1zM420 402h1v1h-1zM422 402h1v1h-1zM424 402h1v1h-1zM426 402h1v1h-1zM428 402h1v1h-1zM430 402h1v1h-1zM432 402h1v1h-1zM434 402h1v1h-1zM436 402h1v1h-1zM438 402h1v1h-1zM440 402h1v1h-1zM442 402h1v1h-1zM444 402h1v1h-1zM446 402h1v1h-1zM448 402h1v1h-1zM450 402h1v1h-1zM452 402h1v1h-1zM454 402h1v1h-1zM456 402h1v1h-1zM458 402h1v1h-1zM460 402h1v1h-1zM462 402h1v1h-1zM464 402h1v1h-1zM466 402h1v1h-1zM468 402h1v1h-1zM470 402h1v1h-1zM472 402h1v1h-1zM474 402h1v1h-1zM476 402h1v1h-1zM478 402h1v1h-1zM480 402h1v1h-1zM482 402h1v1h-1zM484 402h1v1h-1zM486 402h1v1h-1zM488 402h1v1h-1zM490 402h1v1h-1zM492 402h1v1h-1zM494 402h1v1h-1zM496 402h1v1h-1zM498 402h1v1h-1zM500 402h1v1h-1zM502 402h1v1h-1zM504 402h1v1h-1zM506 402h1v1h-1zM508 402h1v1h-1zM510 402h1v1h-1zM512 402h1v1h-1zM514 402h1v1h-1zM516 402h1v1h-1zM518 402h1v1h-1zM520 402h1v1h-1zM522 402h1v1h-1zM524 402h1v1h-1zM526 402h1v1h-1zM528 402h1v1h-1zM530 402h1v1h-1zM532 402h1v1h-1zM534 402h1v1h-1zM536 402h1v1h-1zM538 402h1v1h-1zM540 402h1v1h-1zM542 402h1v1h-1zM544 402h1v1h-1zM546 402h1v1h-1zM548 402h1v1h-1zM550 402h1v1h-1zM552 402h1v1h-1zM554 402h1v1h-1zM556 402h1v1h-1zM558 402h1v1h-1zM560 402h1v1h-1zM562 402h1v1h-1zM564 402h1v1h-1zM566 402h1v1h-1zM568 402h1v1h-1zM570 402h1v1h-1zM572 402h1v1h-1zM574 402h1v1h-1zM576 402h1v1h-1zM578 402h1v1h-1zM580 402h1v1h-1zM582 402h1v1h-1zM584 402h1v1h-1zM586 402h1v1h-1zM588 402h1v1h-1zM590 402h1v1h-1zM592 402h1v1h-1zM594 402h1v1h-1zM596 402h1v1h-1zM598 402h1v1h-1zM600 402h1v1h-1zM602 402h1v1h-1zM604 402h1v1h-1zM606 402h1v1h-1zM608 402h1v1h-1zM610 402h1v1h-1zM612 402h1v1h-1zM614 402h1v1h-1zM616 402h1v1h-1zM618 402h1v1h-1zM620 402h1v1h-1zM622 402h1v1h-1zM624 402h1v1h-1zM626 402h1v1h-1zM628 402h1v1h-1zM630 402h1v1h-1zM632 402h1v1h-1zM634 402h1v1h-1zM636 402h1v1h-1zM638 402h1v1h-1zM640 402h1v1h-1zM642 402h1v1h-1zM644 402h1v1h-1zM646 402h1v1h-1zM648 402h1v1h-1zM650 402h1v1h-1zM652 402h1v1h-1zM654 402h1v1h-1zM656 402h1v1h-1zM658 402h1v1h-1zM660 402h1v1h-1zM662 402h1v1h-1zM664 402h1v1h-1zM666 402h1v1h-1zM668 402h1v1h-1zM670 402h1v1h-1zM672 402h1v1h-1zM674 402h1v1h-1zM676 402h1v1h-1zM678 402h1v1h-1zM680 402h1v1h-1zM682 402h1v1h-1zM684 402h1v1h-1zM686 402h1v1h-1zM688 402h1v1h-1zM690 402h1v1h-1zM692 402h1v1h-1zM694 402h1v1h-1zM696 402h1v1h-1zM698 402h1v1h-1zM700 402h1v1h-1zM702 402h1v1h-1zM704 402h1v1h-1zM706 402h1v1h-1zM708 402h1v1h-1zM710 402h1v1h-1zM712 402h1v1h-1zM714 402h1v1h-1z" fill="#c4c4c4"/>
</g>
<g shape-rendering="crispEdges" fill="#000">
<rect x="0" y="30" width="716" height="1"/>
<rect x="715" y="30" width="1" height="469"/>
<rect x="0" y="381" width="716" height="1"/><rect x="0" y="383" width="716" height="1"/>
<rect x="0" y="436" width="716" height="1"/><rect x="0" y="438" width="716" height="1"/>
<rect x="715" y="382" width="1" height="1" fill="#fff"/><rect x="715" y="437" width="1" height="1" fill="#fff"/>
<rect x="716" y="59" width="3" height="1"/>
<rect x="716" y="91" width="3" height="1"/>
<rect x="716" y="123" width="3" height="1"/>
<rect x="716" y="155" width="3" height="1"/>
<rect x="716" y="187" width="3" height="1"/>
<rect x="716" y="219" width="3" height="1"/>
<rect x="716" y="251" width="3" height="1"/>
<rect x="716" y="283" width="3" height="1"/>
<rect x="716" y="315" width="3" height="1"/>
<rect x="716" y="347" width="3" height="1"/>
<rect x="716" y="379" width="3" height="1"/>
<rect x="716" y="385" width="2" height="1"/><rect x="716" y="434" width="2" height="1"/><rect x="716" y="440" width="2" height="1"/>
<rect x="717" y="337" width="3" height="11"/>
</g>
<g clip-path="url(#cm)">
<polyline points="0.0,177.5 62.5,177.0 82.5,173.8 95.0,168.8 110.0,163.8 125.0,161.3 155.0,161.3 175.0,162.5 190.0,158.4 207.0,162.6 221.6,163.7 232.0,160.5 242.6,156.3 253.0,153.2 274.0,153.2 282.6,150.0 290.0,147.5 297.0,145.0 303.7,141.2 312.0,132.0 319.0,125.8 326.0,120.2 334.6,111.0 343.0,102.0 352.0,92.5 369.7,78.0 384.0,64.5 392.0,58.8 400.0,49.0 409.6,47.2 424.0,44.8 432.0,47.2 441.7,50.4 454.5,50.4 462.5,46.4 467.3,42.4 480.0,40.0 493.0,39.2 513.7,36.3 530.0,32.0 545.0,29.0 560.0,28.0 572.0,29.0 574.0,32.0 577.5,38.0 580.5,44.5 583.0,49.5 587.0,63.7 598.0,84.7 610.5,101.6 627.0,126.8 640.0,152.0 648.0,185.8 657.0,215.0 662.4,229.6 666.4,240.8 670.4,255.3 673.7,265.7 678.5,270.5 683.3,272.6 710.5,272.6" fill="none" stroke="#a0a0a0" stroke-width="1" stroke-dasharray="4.5 3.5" shape-rendering="crispEdges"/>
<polyline points="0.0,203.5 9.0,201.4 15.0,199.4 21.0,198.6 32.0,200.3 48.0,200.3 56.0,199.5 65.0,198.8 73.0,194.6 82.0,193.4 95.0,192.0 105.0,190.4 115.0,187.9 130.0,186.5 175.0,183.8 192.0,182.5 220.0,181.0 250.0,177.0 274.0,171.0 300.0,163.0 316.0,158.0 352.0,144.0 384.0,127.2 407.0,114.5 425.0,104.8 442.5,100.0 459.0,101.0 472.0,103.3 483.0,106.5 496.0,110.0 501.0,113.0 522.0,131.0 539.0,156.0 551.6,177.4 568.4,198.4 585.0,217.0 592.0,227.7 602.0,240.0 613.0,250.0 643.0,278.5 661.0,297.0 672.0,306.0 674.5,307.6 688.0,313.2 710.5,313.2" fill="none" stroke="#a0a0a0" stroke-width="1" stroke-dasharray="4.5 3.5" shape-rendering="crispEdges"/>
<polyline points="0.0,228.8 15.0,222.5 20.0,217.5 37.5,217.5 50.0,223.0 62.5,219.5 100.0,218.5 133.4,217.0 147.0,212.8 178.0,212.4 188.0,206.8 198.4,202.5 210.4,197.4 219.0,192.2 232.6,190.5 260.0,191.4 305.0,191.4 316.0,193.6 329.5,195.9 340.7,199.2 351.9,201.5 360.8,199.2 374.2,193.6 387.7,189.1 401.0,185.8 406.4,182.5 416.0,176.0 424.0,168.0 432.0,159.2 440.0,152.8 448.0,148.0 453.0,149.6 464.0,159.2 472.0,168.0 480.0,172.0 489.7,176.9 504.0,185.3 509.0,192.4 517.0,213.0 524.0,245.0 533.0,280.0 540.0,310.0 549.0,344.0 560.0,362.0 569.7,378.0 574.0,380.0" fill="none" stroke="#a0a0a0" stroke-width="1" stroke-dasharray="4.5 3.5" shape-rendering="crispEdges"/>
<polyline points="655.0,378.0 661.0,370.0 670.5,355.5 677.0,350.0 688.0,353.3 697.7,355.0 710.5,354.0" fill="none" stroke="#a0a0a0" stroke-width="1" stroke-dasharray="4.5 3.5" shape-rendering="crispEdges"/>
<polyline points="266.0,202.5 316.0,203.7 336.0,204.4 360.0,205.5 376.0,206.4 400.0,206.6 438.0,208.0 470.0,209.2 496.0,210.9 544.0,216.0 592.0,221.0 640.0,223.2 655.0,224.3 686.0,225.3 703.0,226.4 714.0,226.4" fill="none" stroke="#008c78" stroke-width="1" shape-rendering="crispEdges"/>
<g shape-rendering="crispEdges">
<rect x="2" y="183" width="1" height="28" fill="#000"/>
<rect x="0" y="185" width="5" height="13" fill="#000"/>
<rect x="1" y="186" width="3" height="11" fill="#fff"/>
<rect x="10" y="174" width="1" height="18" fill="#000"/>
<rect x="8" y="177" width="5" height="11" fill="#000"/>
<rect x="9" y="178" width="3" height="9" fill="#fff"/>
<rect x="18" y="176" width="1" height="35" fill="#000"/>
<rect x="16" y="177" width="5" height="12" fill="#000"/>
<rect x="17" y="178" width="3" height="10" fill="url(#ck)"/>
<rect x="26" y="187" width="1" height="28" fill="#000"/>
<rect x="24" y="187" width="5" height="22" fill="#000"/>
<rect x="25" y="188" width="3" height="20" fill="url(#ck)"/>
<rect x="34" y="200" width="1" height="20" fill="#000"/>
<rect x="32" y="210" width="5" height="1" fill="#000"/>
<rect x="42" y="205" width="1" height="13" fill="#000"/>
<rect x="40" y="206" width="5" height="6" fill="#000"/>
<rect x="41" y="207" width="3" height="4" fill="#fff"/>
<rect x="50" y="200" width="1" height="21" fill="#000"/>
<rect x="48" y="201" width="5" height="7" fill="#000"/>
<rect x="49" y="202" width="3" height="5" fill="#fff"/>
<rect x="58" y="193" width="1" height="18" fill="#000"/>
<rect x="56" y="194" width="5" height="7" fill="#000"/>
<rect x="57" y="195" width="3" height="5" fill="#fff"/>
<rect x="66" y="178" width="1" height="23" fill="#000"/>
<rect x="64" y="191" width="5" height="4" fill="#000"/>
<rect x="65" y="192" width="3" height="2" fill="#fff"/>
<rect x="74" y="159" width="1" height="38" fill="#000"/>
<rect x="72" y="164" width="5" height="29" fill="#000"/>
<rect x="73" y="165" width="3" height="27" fill="#fff"/>
<rect x="82" y="158" width="1" height="43" fill="#000"/>
<rect x="80" y="164" width="5" height="29" fill="#000"/>
<rect x="81" y="165" width="3" height="27" fill="url(#ck)"/>
<rect x="90" y="181" width="1" height="18" fill="#000"/>
<rect x="88" y="182" width="5" height="12" fill="#000"/>
<rect x="89" y="183" width="3" height="10" fill="#fff"/>
<rect x="98" y="163" width="1" height="26" fill="#000"/>
<rect x="96" y="172" width="5" height="11" fill="#000"/>
<rect x="97" y="173" width="3" height="9" fill="#fff"/>
<rect x="106" y="160" width="1" height="29" fill="#000"/>
<rect x="104" y="172" width="5" height="7" fill="#000"/>
<rect x="105" y="173" width="3" height="5" fill="url(#ck)"/>
<rect x="114" y="163" width="1" height="22" fill="#000"/>
<rect x="112" y="167" width="5" height="12" fill="#000"/>
<rect x="113" y="168" width="3" height="10" fill="#fff"/>
<rect x="122" y="162" width="1" height="23" fill="#000"/>
<rect x="120" y="167" width="5" height="15" fill="#000"/>
<rect x="121" y="168" width="3" height="13" fill="url(#ck)"/>
<rect x="130" y="167" width="1" height="23" fill="#000"/>
<rect x="128" y="174" width="5" height="8" fill="#000"/>
<rect x="129" y="175" width="3" height="6" fill="#fff"/>
<rect x="138" y="174" width="1" height="16" fill="#000"/>
<rect x="136" y="174" width="5" height="14" fill="#000"/>
<rect x="137" y="175" width="3" height="12" fill="url(#ck)"/>
<rect x="146" y="178" width="1" height="19" fill="#000"/>
<rect x="144" y="181" width="5" height="6" fill="#000"/>
<rect x="145" y="182" width="3" height="4" fill="#fff"/>
<rect x="154" y="164" width="1" height="19" fill="#000"/>
<rect x="152" y="181" width="5" height="2" fill="#000"/>
<rect x="162" y="179" width="1" height="15" fill="#000"/>
<rect x="160" y="181" width="5" height="5" fill="#000"/>
<rect x="161" y="182" width="3" height="3" fill="url(#ck)"/>
<rect x="170" y="168" width="1" height="21" fill="#000"/>
<rect x="168" y="171" width="5" height="15" fill="#000"/>
<rect x="169" y="172" width="3" height="13" fill="#fff"/>
<rect x="178" y="165" width="1" height="16" fill="#000"/>
<rect x="176" y="167" width="5" height="5" fill="#000"/>
<rect x="177" y="168" width="3" height="3" fill="#fff"/>
<rect x="186" y="160" width="1" height="16" fill="#000"/>
<rect x="184" y="167" width="5" height="8" fill="#000"/>
<rect x="185" y="168" width="3" height="6" fill="url(#ck)"/>
<rect x="194" y="171" width="1" height="14" fill="#000"/>
<rect x="192" y="173" width="5" height="9" fill="#000"/>
<rect x="193" y="174" width="3" height="7" fill="url(#ck)"/>
<rect x="202" y="172" width="1" height="17" fill="#000"/>
<rect x="200" y="177" width="5" height="5" fill="#000"/>
<rect x="201" y="178" width="3" height="3" fill="#fff"/>
<rect x="210" y="176" width="1" height="14" fill="#000"/>
<rect x="208" y="177" width="5" height="3" fill="#000"/>
<rect x="209" y="178" width="3" height="1" fill="url(#ck)"/>
<rect x="218" y="172" width="1" height="10" fill="#000"/>
<rect x="216" y="174" width="5" height="7" fill="#000"/>
<rect x="217" y="175" width="3" height="5" fill="#fff"/>
<rect x="226" y="165" width="1" height="13" fill="#000"/>
<rect x="224" y="173" width="5" height="2" fill="#000"/>
<rect x="234" y="157" width="1" height="20" fill="#000"/>
<rect x="232" y="159" width="5" height="15" fill="#000"/>
<rect x="233" y="160" width="3" height="13" fill="#fff"/>
<rect x="242" y="153" width="1" height="14" fill="#000"/>
<rect x="240" y="156" width="5" height="5" fill="#000"/>
<rect x="241" y="157" width="3" height="3" fill="#fff"/>
<rect x="250" y="141" width="1" height="31" fill="#000"/>
<rect x="248" y="156" width="5" height="11" fill="#000"/>
<rect x="249" y="157" width="3" height="9" fill="url(#ck)"/>
<rect x="258" y="151" width="1" height="22" fill="#000"/>
<rect x="256" y="152" width="5" height="15" fill="#000"/>
<rect x="257" y="153" width="3" height="13" fill="#fff"/>
<rect x="266" y="146" width="1" height="24" fill="#000"/>
<rect x="264" y="152" width="5" height="15" fill="#000"/>
<rect x="265" y="153" width="3" height="13" fill="url(#ck)"/>
<rect x="274" y="158" width="1" height="11" fill="#000"/>
<rect x="272" y="162" width="5" height="6" fill="#000"/>
<rect x="273" y="163" width="3" height="4" fill="#fff"/>
<rect x="282" y="147" width="1" height="19" fill="#000"/>
<rect x="280" y="154" width="5" height="10" fill="#000"/>
<rect x="281" y="155" width="3" height="8" fill="#fff"/>
<rect x="290" y="146" width="1" height="15" fill="#000"/>
<rect x="288" y="147" width="5" height="9" fill="#000"/>
<rect x="289" y="148" width="3" height="7" fill="#fff"/>
<rect x="298" y="140" width="1" height="11" fill="#000"/>
<rect x="296" y="146" width="5" height="3" fill="#000"/>
<rect x="297" y="147" width="3" height="1" fill="#fff"/>
<rect x="306" y="133" width="1" height="18" fill="#000"/>
<rect x="304" y="139" width="5" height="8" fill="#000"/>
<rect x="305" y="140" width="3" height="6" fill="#fff"/>
<rect x="314" y="115" width="1" height="26" fill="#000"/>
<rect x="312" y="116" width="5" height="25" fill="#000"/>
<rect x="313" y="117" width="3" height="23" fill="#fff"/>
<rect x="322" y="115" width="1" height="17" fill="#000"/>
<rect x="320" y="116" width="5" height="6" fill="#000"/>
<rect x="321" y="117" width="3" height="4" fill="url(#ck)"/>
<rect x="330" y="114" width="1" height="11" fill="#000"/>
<rect x="328" y="117" width="5" height="6" fill="#000"/>
<rect x="329" y="118" width="3" height="4" fill="#fff"/>
<rect x="338" y="105" width="1" height="15" fill="#000"/>
<rect x="336" y="106" width="5" height="13" fill="#000"/>
<rect x="337" y="107" width="3" height="11" fill="#fff"/>
<rect x="346" y="90" width="1" height="21" fill="#000"/>
<rect x="344" y="92" width="5" height="15" fill="#000"/>
<rect x="345" y="93" width="3" height="13" fill="#fff"/>
<rect x="354" y="72" width="1" height="33" fill="#000"/>
<rect x="352" y="81" width="5" height="12" fill="#000"/>
<rect x="353" y="82" width="3" height="10" fill="#fff"/>
<rect x="362" y="78" width="1" height="22" fill="#000"/>
<rect x="360" y="81" width="5" height="13" fill="#000"/>
<rect x="361" y="82" width="3" height="11" fill="url(#ck)"/>
<rect x="370" y="91" width="1" height="32" fill="#000"/>
<rect x="368" y="93" width="5" height="4" fill="#000"/>
<rect x="369" y="94" width="3" height="2" fill="#fff"/>
<rect x="378" y="77" width="1" height="21" fill="#000"/>
<rect x="376" y="78" width="5" height="19" fill="#000"/>
<rect x="377" y="79" width="3" height="17" fill="#fff"/>
<rect x="386" y="71" width="1" height="14" fill="#000"/>
<rect x="384" y="73" width="5" height="6" fill="#000"/>
<rect x="385" y="74" width="3" height="4" fill="#fff"/>
<rect x="394" y="56" width="1" height="27" fill="#000"/>
<rect x="392" y="57" width="5" height="17" fill="#000"/>
<rect x="393" y="58" width="3" height="15" fill="#fff"/>
<rect x="402" y="52" width="1" height="28" fill="#000"/>
<rect x="400" y="58" width="5" height="17" fill="#000"/>
<rect x="401" y="59" width="3" height="15" fill="url(#ck)"/>
<rect x="410" y="65" width="1" height="62" fill="#000"/>
<rect x="408" y="74" width="5" height="18" fill="#000"/>
<rect x="409" y="75" width="3" height="16" fill="url(#ck)"/>
<rect x="418" y="87" width="1" height="19" fill="#000"/>
<rect x="416" y="87" width="5" height="5" fill="#000"/>
<rect x="417" y="88" width="3" height="3" fill="#fff"/>
<rect x="426" y="74" width="1" height="27" fill="#000"/>
<rect x="424" y="75" width="5" height="14" fill="#000"/>
<rect x="425" y="76" width="3" height="12" fill="#fff"/>
<rect x="434" y="72" width="1" height="51" fill="#000"/>
<rect x="432" y="75" width="5" height="29" fill="#000"/>
<rect x="433" y="76" width="3" height="27" fill="url(#ck)"/>
<rect x="442" y="99" width="1" height="22" fill="#000"/>
<rect x="440" y="104" width="5" height="17" fill="#000"/>
<rect x="441" y="105" width="3" height="15" fill="url(#ck)"/>
<rect x="450" y="120" width="1" height="43" fill="#000"/>
<rect x="448" y="121" width="5" height="25" fill="#000"/>
<rect x="449" y="122" width="3" height="23" fill="url(#ck)"/>
<rect x="458" y="139" width="1" height="21" fill="#000"/>
<rect x="456" y="145" width="5" height="14" fill="#000"/>
<rect x="457" y="146" width="3" height="12" fill="url(#ck)"/>
<rect x="466" y="154" width="1" height="38" fill="#000"/>
<rect x="464" y="161" width="5" height="18" fill="#000"/>
<rect x="465" y="162" width="3" height="16" fill="url(#ck)"/>
<rect x="474" y="151" width="1" height="30" fill="#000"/>
<rect x="472" y="157" width="5" height="22" fill="#000"/>
<rect x="473" y="158" width="3" height="20" fill="#fff"/>
<rect x="482" y="150" width="1" height="26" fill="#000"/>
<rect x="480" y="152" width="5" height="6" fill="#000"/>
<rect x="481" y="153" width="3" height="4" fill="#fff"/>
<rect x="490" y="139" width="1" height="26" fill="#000"/>
<rect x="488" y="145" width="5" height="9" fill="#000"/>
<rect x="489" y="146" width="3" height="7" fill="#fff"/>
<rect x="498" y="134" width="1" height="22" fill="#000"/>
<rect x="496" y="139" width="5" height="7" fill="#000"/>
<rect x="497" y="140" width="3" height="5" fill="#fff"/>
<rect x="506" y="139" width="1" height="42" fill="#000"/>
<rect x="504" y="139" width="5" height="40" fill="#000"/>
<rect x="505" y="140" width="3" height="38" fill="url(#ck)"/>
<rect x="514" y="182" width="1" height="31" fill="#000"/>
<rect x="512" y="182" width="5" height="19" fill="#000"/>
<rect x="513" y="183" width="3" height="17" fill="url(#ck)"/>
<rect x="522" y="200" width="1" height="124" fill="#000"/>
<rect x="520" y="200" width="5" height="77" fill="#000"/>
<rect x="521" y="201" width="3" height="75" fill="url(#ck)"/>
<rect x="530" y="262" width="1" height="66" fill="#000"/>
<rect x="528" y="275" width="5" height="29" fill="#000"/>
<rect x="529" y="276" width="3" height="27" fill="url(#ck)"/>
<rect x="538" y="303" width="1" height="43" fill="#000"/>
<rect x="536" y="303" width="5" height="37" fill="#000"/>
<rect x="537" y="304" width="3" height="35" fill="url(#ck)"/>
<rect x="546" y="316" width="1" height="52" fill="#000"/>
<rect x="544" y="337" width="5" height="7" fill="#000"/>
<rect x="545" y="338" width="3" height="5" fill="url(#ck)"/>
<rect x="554" y="316" width="1" height="41" fill="#000"/>
<rect x="552" y="321" width="5" height="26" fill="#000"/>
<rect x="553" y="322" width="3" height="24" fill="#fff"/>
<rect x="562" y="308" width="1" height="35" fill="#000"/>
<rect x="560" y="316" width="5" height="7" fill="#000"/>
<rect x="561" y="317" width="3" height="5" fill="#fff"/>
<rect x="570" y="292" width="1" height="32" fill="#000"/>
<rect x="568" y="306" width="5" height="11" fill="#000"/>
<rect x="569" y="307" width="3" height="9" fill="#fff"/>
<rect x="578" y="282" width="1" height="32" fill="#000"/>
<rect x="576" y="286" width="5" height="21" fill="#000"/>
<rect x="577" y="287" width="3" height="19" fill="#fff"/>
<rect x="586" y="265" width="1" height="24" fill="#000"/>
<rect x="584" y="276" width="5" height="10" fill="#000"/>
<rect x="585" y="277" width="3" height="8" fill="#fff"/>
<rect x="594" y="271" width="1" height="34" fill="#000"/>
<rect x="592" y="275" width="5" height="2" fill="#000"/>
<rect x="602" y="264" width="1" height="33" fill="#000"/>
<rect x="600" y="275" width="5" height="18" fill="#000"/>
<rect x="601" y="276" width="3" height="16" fill="url(#ck)"/>
<rect x="610" y="288" width="1" height="34" fill="#000"/>
<rect x="608" y="292" width="5" height="21" fill="#000"/>
<rect x="609" y="293" width="3" height="19" fill="url(#ck)"/>
<rect x="618" y="288" width="1" height="34" fill="#000"/>
<rect x="616" y="300" width="5" height="11" fill="#000"/>
<rect x="617" y="301" width="3" height="9" fill="#fff"/>
<rect x="626" y="292" width="1" height="31" fill="#000"/>
<rect x="624" y="304" width="5" height="13" fill="#000"/>
<rect x="625" y="305" width="3" height="11" fill="url(#ck)"/>
<rect x="634" y="298" width="1" height="20" fill="#000"/>
<rect x="632" y="299" width="5" height="18" fill="#000"/>
<rect x="633" y="300" width="3" height="16" fill="#fff"/>
<rect x="642" y="296" width="1" height="17" fill="#000"/>
<rect x="640" y="296" width="5" height="16" fill="#000"/>
<rect x="641" y="297" width="3" height="14" fill="url(#ck)"/>
<rect x="650" y="307" width="1" height="28" fill="#000"/>
<rect x="648" y="311" width="5" height="21" fill="#000"/>
<rect x="649" y="312" width="3" height="19" fill="url(#ck)"/>
<rect x="658" y="315" width="1" height="29" fill="#000"/>
<rect x="656" y="316" width="5" height="18" fill="#000"/>
<rect x="657" y="317" width="3" height="16" fill="#fff"/>
<rect x="666" y="306" width="1" height="18" fill="#000"/>
<rect x="664" y="311" width="5" height="6" fill="#000"/>
<rect x="665" y="312" width="3" height="4" fill="#fff"/>
<rect x="674" y="308" width="1" height="47" fill="#000"/>
<rect x="672" y="311" width="5" height="29" fill="#000"/>
<rect x="673" y="312" width="3" height="27" fill="url(#ck)"/>
<rect x="682" y="328" width="1" height="17" fill="#000"/>
<rect x="680" y="339" width="5" height="2" fill="#000"/>
<rect x="690" y="326" width="1" height="19" fill="#000"/>
<rect x="688" y="331" width="5" height="10" fill="#000"/>
<rect x="689" y="332" width="3" height="8" fill="#fff"/>
<rect x="698" y="326" width="1" height="23" fill="#000"/>
<rect x="696" y="330" width="5" height="19" fill="#000"/>
<rect x="697" y="331" width="3" height="17" fill="url(#ck)"/>
<rect x="706" y="332" width="1" height="21" fill="#000"/>
<rect x="704" y="343" width="5" height="5" fill="#000"/>
<rect x="705" y="344" width="3" height="3" fill="#fff"/>
<rect x="714" y="337" width="1" height="18" fill="#000"/>
<rect x="712" y="342" width="5" height="7" fill="#000"/>
<rect x="713" y="343" width="3" height="5" fill="#fff"/>
</g>
<polyline points="-0.5,215.2 7.5,212.8 15.5,211.2 31.5,210.7 47.5,211.5 63.5,210.7 79.5,208.5 95.5,205.5 111.5,204.0 127.5,201.5 143.5,200.0 159.5,198.4 175.5,196.3 191.5,192.8 207.5,189.5 223.5,186.9 239.5,184.8 255.5,182.4 271.5,180.8 287.5,178.2 303.5,174.5 319.5,170.0 335.5,163.6 351.5,155.9 367.5,147.6 383.5,139.5 387.5,136.4 402.0,128.4 411.5,126.0 427.5,118.8 443.5,115.5 456.5,115.5 471.5,119.9 487.5,124.7 497.2,125.5 506.8,130.3 514.8,135.1 522.8,146.4 529.2,156.0 535.5,164.8 538.8,169.5 546.8,183.9 559.5,204.8 569.2,219.2 582.0,235.2 591.5,245.3 594.7,249.5 607.5,263.9 622.0,277.5 639.5,292.0 655.5,308.7 665.2,318.5 674.0,326.7 681.2,327.5 705.2,327.5 708.5,326.4 714.5,326.4" fill="none" stroke="#9400d3" stroke-width="1.2" stroke-linejoin="round" shape-rendering="crispEdges"/>
<polyline points="0.5,215.2 8.5,212.8 16.5,211.2 32.5,210.7 48.5,211.5 64.5,210.7 80.5,208.5 96.5,205.5 112.5,204.0 128.5,201.5 144.5,200.0 160.5,198.4 176.5,196.3 192.5,192.8 208.5,189.5 224.5,186.9 240.5,184.8 256.5,182.4 272.5,180.8 288.5,178.2 304.5,174.5 320.5,170.0 336.5,163.6 352.5,155.9 368.5,147.6 384.5,139.5 388.5,136.4 403.0,128.4 412.5,126.0 428.5,118.8 444.5,115.5 457.5,115.5 472.5,119.9 488.5,124.7 498.2,125.5 507.8,130.3 515.8,135.1 523.8,146.4 530.2,156.0 536.5,164.8 539.8,169.5 547.8,183.9 560.5,204.8 570.2,219.2 583.0,235.2 592.5,245.3 595.7,249.5 608.5,263.9 623.0,277.5 640.5,292.0 656.5,308.7 666.2,318.5 675.0,326.7 682.2,327.5 706.2,327.5 709.5,326.4 715.5,326.4" fill="none" stroke="#9400d3" stroke-width="1.2" stroke-linejoin="round" shape-rendering="crispEdges"/>
<polyline points="-0.5,216.2 7.5,213.8 15.5,212.2 31.5,211.7 47.5,212.5 63.5,211.7 79.5,209.5 95.5,206.5 111.5,205.0 127.5,202.5 143.5,201.0 159.5,199.4 175.5,197.3 191.5,193.8 207.5,190.5 223.5,187.9 239.5,185.8 255.5,183.4 271.5,181.8 287.5,179.2 303.5,175.5 319.5,171.0 335.5,164.6 351.5,156.9 367.5,148.6 383.5,140.5 387.5,137.4 402.0,129.4 411.5,127.0 427.5,119.8 443.5,116.5 456.5,116.5 471.5,120.9 487.5,125.7 497.2,126.5 506.8,131.3 514.8,136.1 522.8,147.4 529.2,157.0 535.5,165.8 538.8,170.5 546.8,184.9 559.5,205.8 569.2,220.2 582.0,236.2 591.5,246.3 594.7,250.5 607.5,264.9 622.0,278.5 639.5,293.0 655.5,309.7 665.2,319.5 674.0,327.7 681.2,328.5 705.2,328.5 708.5,327.4 714.5,327.4" fill="none" stroke="#9400d3" stroke-width="1.2" stroke-linejoin="round" shape-rendering="crispEdges"/>
<polyline points="0.5,216.2 8.5,213.8 16.5,212.2 32.5,211.7 48.5,212.5 64.5,211.7 80.5,209.5 96.5,206.5 112.5,205.0 128.5,202.5 144.5,201.0 160.5,199.4 176.5,197.3 192.5,193.8 208.5,190.5 224.5,187.9 240.5,185.8 256.5,183.4 272.5,181.8 288.5,179.2 304.5,175.5 320.5,171.0 336.5,164.6 352.5,156.9 368.5,148.6 384.5,140.5 388.5,137.4 403.0,129.4 412.5,127.0 428.5,119.8 444.5,116.5 457.5,116.5 472.5,120.9 488.5,125.7 498.2,126.5 507.8,131.3 515.8,136.1 523.8,147.4 530.2,157.0 536.5,165.8 539.8,170.5 547.8,184.9 560.5,205.8 570.2,220.2 583.0,236.2 592.5,246.3 595.7,250.5 608.5,264.9 623.0,278.5 640.5,293.0 656.5,309.7 666.2,319.5 675.0,327.7 682.2,328.5 706.2,328.5 709.5,327.4 715.5,327.4" fill="none" stroke="#9400d3" stroke-width="1.2" stroke-linejoin="round" shape-rendering="crispEdges"/>
<polyline points="0.0,207.0 8.0,205.8 16.0,206.0 24.0,208.0 32.0,209.6 40.0,211.0 48.0,211.7 56.0,212.5 64.0,213.3 72.0,211.7 80.0,209.3 88.0,206.4 96.0,203.2 104.0,197.3 112.0,193.0 120.0,190.0 128.0,189.6 136.0,188.8 144.0,187.7 152.0,187.2 160.0,188.5 168.0,189.0 176.0,188.0 184.0,186.5 192.0,186.4 208.0,185.0 216.0,183.7 224.0,182.6 234.5,181.3 242.5,179.4 250.5,177.6 258.5,175.7 266.5,172.5 274.5,170.9 282.5,169.3 288.0,167.7 296.0,165.7 304.0,163.3 312.0,158.5 320.0,153.7 328.0,146.5 336.0,140.0 344.0,134.5 352.0,127.2 360.0,118.4 365.0,116.3 371.0,115.2 378.0,110.2 386.5,104.5 394.5,98.6 402.5,95.0 410.5,98.3 418.5,98.9 426.5,96.0 434.5,100.0 442.5,104.0 450.5,116.0 458.0,126.5 466.0,137.2 474.0,148.5 482.0,158.0 490.0,165.3 498.0,169.3 506.0,170.9 514.0,178.9 517.0,183.0 523.0,198.8 531.0,221.3 537.3,240.0 547.3,275.3 557.0,307.3 562.0,321.0 570.0,341.5 574.5,340.6 582.5,337.0 592.0,329.5 602.0,317.2 610.0,311.7 618.0,309.6 626.0,309.6 634.0,310.6 642.0,313.0 650.0,318.3 658.0,323.7 666.0,325.0 674.0,327.7 682.0,332.5 690.0,336.5 698.0,340.5 706.0,342.9 714.0,345.3" fill="none" stroke="#0000a0" stroke-width="1" stroke-linejoin="round" shape-rendering="crispEdges"/>
<polyline points="0.0,210.0 8.0,207.0 16.0,204.5 22.0,204.2 28.0,206.0 34.0,209.5 40.0,213.3 47.0,218.2 50.5,220.2 58.5,218.3 66.5,214.5 74.5,207.3 82.5,200.3 90.5,197.3 96.0,196.3 104.0,194.0 112.0,190.4 122.4,185.0 130.4,186.0 138.5,186.9 146.5,189.0 154.5,189.0 162.5,191.3 170.5,190.9 178.5,187.2 186.5,184.5 192.0,181.6 202.4,182.0 210.4,185.0 218.4,186.4 226.5,184.5 234.5,181.0 242.5,174.0 250.5,172.0 258.5,171.3 266.5,168.8 274.5,169.3 282.5,167.7 288.0,166.5 296.0,161.7 304.0,157.7 312.0,152.1 320.0,146.2 328.0,138.5 336.0,130.4 344.0,123.2 352.0,115.2 360.0,108.8 365.0,108.0 370.0,109.2 378.5,103.7 386.5,98.9 394.5,94.9 402.5,85.5 410.5,92.0 418.5,98.6 426.5,101.5 434.5,112.0 442.5,112.0 450.5,126.6 458.5,141.8 466.0,156.5 474.0,173.3 482.0,175.7 490.0,177.3 498.0,169.0 506.0,166.9 514.0,178.1 518.5,190.0 520.0,202.0 525.0,231.0 528.0,250.0 533.0,272.0 538.0,301.0 541.7,320.0 544.0,327.4 549.0,343.5 554.0,349.9 562.0,353.9 570.0,347.5 578.0,330.6 586.0,317.5 594.0,306.0 602.0,300.5 610.0,302.9 618.0,310.9 626.0,315.7 634.0,320.0 642.0,318.2 650.0,321.0 658.0,325.5 666.0,327.5 674.0,337.3 682.0,338.9 690.0,341.3 698.0,347.4 706.0,346.0 714.0,349.6" fill="none" stroke="#ff0000" stroke-width="1" stroke-linejoin="round" shape-rendering="crispEdges"/>
<g shape-rendering="crispEdges" fill="#0808b4">
<rect x="2" y="210" width="1" height="1" fill="#fff"/>
<rect x="10" y="210" width="1" height="1" fill="#fff"/>
<rect x="18" y="210" width="1" height="1" fill="#fff"/>
<rect x="26" y="174" width="1" height="1" fill="#fff"/>
<rect x="34" y="175" width="1" height="1" fill="#fff"/>
<rect x="42" y="176" width="1" height="1" fill="#fff"/>
<rect x="50" y="178" width="1" height="1" fill="#fff"/>
<rect x="58" y="182" width="1" height="1" fill="#fff"/>
<rect x="66" y="224" width="1" height="1" fill="#fff"/>
<rect x="74" y="223" width="1" height="1" fill="#fff"/>
<rect x="82" y="220" width="1" height="1" fill="#fff"/>
<rect x="90" y="216" width="1" height="1" fill="#fff"/>
<rect x="98" y="212" width="1" height="1" fill="#fff"/>
<rect x="106" y="209" width="1" height="1" fill="#fff"/>
<rect x="114" y="206" width="1" height="1" fill="#fff"/>
<rect x="122" y="202" width="1" height="1" fill="#fff"/>
<rect x="130" y="199" width="1" height="1" fill="#fff"/>
<rect x="138" y="197" width="1" height="1" fill="#fff"/>
<rect x="146" y="153" width="1" height="1" fill="#fff"/>
<rect x="154" y="154" width="1" height="1" fill="#fff"/>
<rect x="162" y="155" width="1" height="1" fill="#fff"/>
<rect x="170" y="157" width="1" height="1" fill="#fff"/>
<rect x="178" y="158" width="1" height="1" fill="#fff"/>
<rect x="186" y="199" width="1" height="1" fill="#fff"/>
<rect x="194" y="198" width="1" height="1" fill="#fff"/>
<rect x="202" y="197" width="1" height="1" fill="#fff"/>
<rect x="210" y="197" width="1" height="1" fill="#fff"/>
<rect x="218" y="196" width="1" height="1" fill="#fff"/>
<rect x="226" y="195" width="1" height="1" fill="#fff"/>
<rect x="234" y="194" width="1" height="1" fill="#fff"/>
<rect x="242" y="193" width="1" height="1" fill="#fff"/>
<rect x="250" y="191" width="1" height="1" fill="#fff"/>
<rect x="258" y="187" width="1" height="1" fill="#fff"/>
<rect x="266" y="183" width="1" height="1" fill="#fff"/>
<rect x="274" y="180" width="1" height="1" fill="#fff"/>
<rect x="282" y="177" width="1" height="1" fill="#fff"/>
<rect x="290" y="174" width="1" height="1" fill="#fff"/>
<rect x="298" y="171" width="1" height="1" fill="#fff"/>
<rect x="306" y="168" width="1" height="1" fill="#fff"/>
<rect x="314" y="164" width="1" height="1" fill="#fff"/>
<rect x="322" y="157" width="1" height="1" fill="#fff"/>
<rect x="330" y="151" width="1" height="1" fill="#fff"/>
<rect x="338" y="145" width="1" height="1" fill="#fff"/>
<rect x="346" y="138" width="1" height="1" fill="#fff"/>
<rect x="354" y="128" width="1" height="1" fill="#fff"/>
<rect x="362" y="117" width="1" height="1" fill="#fff"/>
<rect x="370" y="72" width="1" height="1" fill="#fff"/>
<rect x="378" y="73" width="1" height="1" fill="#fff"/>
<rect x="386" y="121" width="1" height="1" fill="#fff"/>
<rect x="394" y="120" width="1" height="1" fill="#fff"/>
<rect x="402" y="118" width="1" height="1" fill="#fff"/>
<rect x="410" y="48" width="1" height="1" fill="#fff"/>
<rect x="418" y="48" width="1" height="1" fill="#fff"/>
<rect x="426" y="50" width="1" height="1" fill="#fff"/>
<rect x="434" y="51" width="1" height="1" fill="#fff"/>
<rect x="442" y="53" width="1" height="1" fill="#fff"/>
<rect x="450" y="54" width="1" height="1" fill="#fff"/>
<rect x="458" y="58" width="1" height="1" fill="#fff"/>
<rect x="466" y="62" width="1" height="1" fill="#fff"/>
<rect x="474" y="70" width="1" height="1" fill="#fff"/>
<rect x="482" y="77" width="1" height="1" fill="#fff"/>
<rect x="490" y="84" width="1" height="1" fill="#fff"/>
<rect x="498" y="90" width="1" height="1" fill="#fff"/>
<rect x="506" y="96" width="1" height="1" fill="#fff"/>
<rect x="514" y="102" width="1" height="1" fill="#fff"/>
<rect x="522" y="110" width="1" height="1" fill="#fff"/>
<rect x="530" y="132" width="1" height="1" fill="#fff"/>
<rect x="538" y="155" width="1" height="1" fill="#fff"/>
<rect x="546" y="182" width="1" height="1" fill="#fff"/>
<rect x="554" y="213" width="1" height="1" fill="#fff"/>
<rect x="562" y="238" width="1" height="1" fill="#fff"/>
<rect x="570" y="260" width="1" height="1" fill="#fff"/>
<rect x="578" y="278" width="1" height="1" fill="#fff"/>
<rect x="586" y="372" width="1" height="1" fill="#fff"/>
<rect x="594" y="370" width="1" height="1" fill="#fff"/>
<rect x="602" y="368" width="1" height="1" fill="#fff"/>
<rect x="610" y="364" width="1" height="1" fill="#fff"/>
<rect x="618" y="360" width="1" height="1" fill="#fff"/>
<rect x="626" y="356" width="1" height="1" fill="#fff"/>
<rect x="634" y="352" width="1" height="1" fill="#fff"/>
<rect x="642" y="349" width="1" height="1" fill="#fff"/>
<rect x="650" y="345" width="1" height="1" fill="#fff"/>
<rect x="658" y="342" width="1" height="1" fill="#fff"/>
<rect x="666" y="340" width="1" height="1" fill="#fff"/>
<rect x="674" y="264" width="1" height="1" fill="#fff"/>
<rect x="682" y="265" width="1" height="1" fill="#fff"/>
<rect x="690" y="267" width="1" height="1" fill="#fff"/>
<rect x="698" y="269" width="1" height="1" fill="#fff"/>
<rect x="706" y="271" width="1" height="1" fill="#fff"/>
<rect x="714" y="272" width="1" height="1" fill="#fff"/>
<path d="M2 209h1v1h-1zM1 210h1v1h-1zM3 210h1v1h-1zM2 211h1v1h-1zM10 209h1v1h-1zM9 210h1v1h-1zM11 210h1v1h-1zM10 211h1v1h-1zM18 209h1v1h-1zM17 210h1v1h-1zM19 210h1v1h-1zM18 211h1v1h-1zM26 173h1v1h-1zM25 174h1v1h-1zM27 174h1v1h-1zM26 175h1v1h-1zM34 174h1v1h-1zM33 175h1v1h-1zM35 175h1v1h-1zM34 176h1v1h-1zM42 175h1v1h-1zM41 176h1v1h-1zM43 176h1v1h-1zM42 177h1v1h-1zM50 177h1v1h-1zM49 178h1v1h-1zM51 178h1v1h-1zM50 179h1v1h-1zM58 181h1v1h-1zM57 182h1v1h-1zM59 182h1v1h-1zM58 183h1v1h-1zM66 223h1v1h-1zM65 224h1v1h-1zM67 224h1v1h-1zM66 225h1v1h-1zM74 222h1v1h-1zM73 223h1v1h-1zM75 223h1v1h-1zM74 224h1v1h-1zM82 219h1v1h-1zM81 220h1v1h-1zM83 220h1v1h-1zM82 221h1v1h-1zM90 215h1v1h-1zM89 216h1v1h-1zM91 216h1v1h-1zM90 217h1v1h-1zM98 211h1v1h-1zM97 212h1v1h-1zM99 212h1v1h-1zM98 213h1v1h-1zM106 208h1v1h-1zM105 209h1v1h-1zM107 209h1v1h-1zM106 210h1v1h-1zM114 205h1v1h-1zM113 206h1v1h-1zM115 206h1v1h-1zM114 207h1v1h-1zM122 201h1v1h-1zM121 202h1v1h-1zM123 202h1v1h-1zM122 203h1v1h-1zM130 198h1v1h-1zM129 199h1v1h-1zM131 199h1v1h-1zM130 200h1v1h-1zM138 196h1v1h-1zM137 197h1v1h-1zM139 197h1v1h-1zM138 198h1v1h-1zM146 152h1v1h-1zM145 153h1v1h-1zM147 153h1v1h-1zM146 154h1v1h-1zM154 153h1v1h-1zM153 154h1v1h-1zM155 154h1v1h-1zM154 155h1v1h-1zM162 154h1v1h-1zM161 155h1v1h-1zM163 155h1v1h-1zM162 156h1v1h-1zM170 156h1v1h-1zM169 157h1v1h-1zM171 157h1v1h-1zM170 158h1v1h-1zM178 157h1v1h-1zM177 158h1v1h-1zM179 158h1v1h-1zM178 159h1v1h-1zM186 198h1v1h-1zM185 199h1v1h-1zM187 199h1v1h-1zM186 200h1v1h-1zM194 197h1v1h-1zM193 198h1v1h-1zM195 198h1v1h-1zM194 199h1v1h-1zM202 196h1v1h-1zM201 197h1v1h-1zM203 197h1v1h-1zM202 198h1v1h-1zM210 196h1v1h-1zM209 197h1v1h-1zM211 197h1v1h-1zM210 198h1v1h-1zM218 195h1v1h-1zM217 196h1v1h-1zM219 196h1v1h-1zM218 197h1v1h-1zM226 194h1v1h-1zM225 195h1v1h-1zM227 195h1v1h-1zM226 196h1v1h-1zM234 193h1v1h-1zM233 194h1v1h-1zM235 194h1v1h-1zM234 195h1v1h-1zM242 192h1v1h-1zM241 193h1v1h-1zM243 193h1v1h-1zM242 194h1v1h-1zM250 190h1v1h-1zM249 191h1v1h-1zM251 191h1v1h-1zM250 192h1v1h-1zM258 186h1v1h-1zM257 187h1v1h-1zM259 187h1v1h-1zM258 188h1v1h-1zM266 182h1v1h-1zM265 183h1v1h-1zM267 183h1v1h-1zM266 184h1v1h-1zM274 179h1v1h-1zM273 180h1v1h-1zM275 180h1v1h-1zM274 181h1v1h-1zM282 176h1v1h-1zM281 177h1v1h-1zM283 177h1v1h-1zM282 178h1v1h-1zM290 173h1v1h-1zM289 174h1v1h-1zM291 174h1v1h-1zM290 175h1v1h-1zM298 170h1v1h-1zM297 171h1v1h-1zM299 171h1v1h-1zM298 172h1v1h-1zM306 167h1v1h-1zM305 168h1v1h-1zM307 168h1v1h-1zM306 169h1v1h-1zM314 163h1v1h-1zM313 164h1v1h-1zM315 164h1v1h-1zM314 165h1v1h-1zM322 156h1v1h-1zM321 157h1v1h-1zM323 157h1v1h-1zM322 158h1v1h-1zM330 150h1v1h-1zM329 151h1v1h-1zM331 151h1v1h-1zM330 152h1v1h-1zM338 144h1v1h-1zM337 145h1v1h-1zM339 145h1v1h-1zM338 146h1v1h-1zM346 137h1v1h-1zM345 138h1v1h-1zM347 138h1v1h-1zM346 139h1v1h-1zM354 127h1v1h-1zM353 128h1v1h-1zM355 128h1v1h-1zM354 129h1v1h-1zM362 116h1v1h-1zM361 117h1v1h-1zM363 117h1v1h-1zM362 118h1v1h-1zM370 71h1v1h-1zM369 72h1v1h-1zM371 72h1v1h-1zM370 73h1v1h-1zM378 72h1v1h-1zM377 73h1v1h-1zM379 73h1v1h-1zM378 74h1v1h-1zM386 120h1v1h-1zM385 121h1v1h-1zM387 121h1v1h-1zM386 122h1v1h-1zM394 119h1v1h-1zM393 120h1v1h-1zM395 120h1v1h-1zM394 121h1v1h-1zM402 117h1v1h-1zM401 118h1v1h-1zM403 118h1v1h-1zM402 119h1v1h-1zM410 47h1v1h-1zM409 48h1v1h-1zM411 48h1v1h-1zM410 49h1v1h-1zM418 47h1v1h-1zM417 48h1v1h-1zM419 48h1v1h-1zM418 49h1v1h-1zM426 49h1v1h-1zM425 50h1v1h-1zM427 50h1v1h-1zM426 51h1v1h-1zM434 50h1v1h-1zM433 51h1v1h-1zM435 51h1v1h-1zM434 52h1v1h-1zM442 52h1v1h-1zM441 53h1v1h-1zM443 53h1v1h-1zM442 54h1v1h-1zM450 53h1v1h-1zM449 54h1v1h-1zM451 54h1v1h-1zM450 55h1v1h-1zM458 57h1v1h-1zM457 58h1v1h-1zM459 58h1v1h-1zM458 59h1v1h-1zM466 61h1v1h-1zM465 62h1v1h-1zM467 62h1v1h-1zM466 63h1v1h-1zM474 69h1v1h-1zM473 70h1v1h-1zM475 70h1v1h-1zM474 71h1v1h-1zM482 76h1v1h-1zM481 77h1v1h-1zM483 77h1v1h-1zM482 78h1v1h-1zM490 83h1v1h-1zM489 84h1v1h-1zM491 84h1v1h-1zM490 85h1v1h-1zM498 89h1v1h-1zM497 90h1v1h-1zM499 90h1v1h-1zM498 91h1v1h-1zM506 95h1v1h-1zM505 96h1v1h-1zM507 96h1v1h-1zM506 97h1v1h-1zM514 101h1v1h-1zM513 102h1v1h-1zM515 102h1v1h-1zM514 103h1v1h-1zM522 109h1v1h-1zM521 110h1v1h-1zM523 110h1v1h-1zM522 111h1v1h-1zM530 131h1v1h-1zM529 132h1v1h-1zM531 132h1v1h-1zM530 133h1v1h-1zM538 154h1v1h-1zM537 155h1v1h-1zM539 155h1v1h-1zM538 156h1v1h-1zM546 181h1v1h-1zM545 182h1v1h-1zM547 182h1v1h-1zM546 183h1v1h-1zM554 212h1v1h-1zM553 213h1v1h-1zM555 213h1v1h-1zM554 214h1v1h-1zM562 237h1v1h-1zM561 238h1v1h-1zM563 238h1v1h-1zM562 239h1v1h-1zM570 259h1v1h-1zM569 260h1v1h-1zM571 260h1v1h-1zM570 261h1v1h-1zM578 277h1v1h-1zM577 278h1v1h-1zM579 278h1v1h-1zM578 279h1v1h-1zM586 371h1v1h-1zM585 372h1v1h-1zM587 372h1v1h-1zM586 373h1v1h-1zM594 369h1v1h-1zM593 370h1v1h-1zM595 370h1v1h-1zM594 371h1v1h-1zM602 367h1v1h-1zM601 368h1v1h-1zM603 368h1v1h-1zM602 369h1v1h-1zM610 363h1v1h-1zM609 364h1v1h-1zM611 364h1v1h-1zM610 365h1v1h-1zM618 359h1v1h-1zM617 360h1v1h-1zM619 360h1v1h-1zM618 361h1v1h-1zM626 355h1v1h-1zM625 356h1v1h-1zM627 356h1v1h-1zM626 357h1v1h-1zM634 351h1v1h-1zM633 352h1v1h-1zM635 352h1v1h-1zM634 353h1v1h-1zM642 348h1v1h-1zM641 349h1v1h-1zM643 349h1v1h-1zM642 350h1v1h-1zM650 344h1v1h-1zM649 345h1v1h-1zM651 345h1v1h-1zM650 346h1v1h-1zM658 341h1v1h-1zM657 342h1v1h-1zM659 342h1v1h-1zM658 343h1v1h-1zM666 339h1v1h-1zM665 340h1v1h-1zM667 340h1v1h-1zM666 341h1v1h-1zM674 263h1v1h-1zM673 264h1v1h-1zM675 264h1v1h-1zM674 265h1v1h-1zM682 264h1v1h-1zM681 265h1v1h-1zM683 265h1v1h-1zM682 266h1v1h-1zM690 266h1v1h-1zM689 267h1v1h-1zM691 267h1v1h-1zM690 268h1v1h-1zM698 268h1v1h-1zM697 269h1v1h-1zM699 269h1v1h-1zM698 270h1v1h-1zM706 270h1v1h-1zM705 271h1v1h-1zM707 271h1v1h-1zM706 272h1v1h-1zM714 271h1v1h-1zM713 272h1v1h-1zM715 272h1v1h-1zM714 273h1v1h-1z"/>
</g>
<polygon points="81.0,145.0 84.0,145.0 84.0,153.0 88.0,149.0 88.0,153.5 82.5,158.5 77.0,153.5 77.0,149.0 81.0,153.0" fill="#ff0000"/>
<polygon points="401.0,40.0 404.0,40.0 404.0,48.0 408.0,44.0 408.0,48.5 402.5,53.5 397.0,48.5 397.0,44.0 401.0,48.0" fill="#ff0000"/>
<polygon points="42.5,218.0 48.5,223.0 48.5,227.5 44.5,224.0 44.5,231.5 40.5,231.5 40.5,224.0 36.5,227.5 36.5,223.0" fill="#32a068"/>
<polygon points="162.5,194.0 168.5,199.0 168.5,203.5 164.5,200.0 164.5,207.5 160.5,207.5 160.5,200.0 156.5,203.5 156.5,199.0" fill="#32a068"/>
<polygon points="546.5,367.0 552.5,372.0 552.5,376.5 548.5,373.0 548.5,380.5 544.5,380.5 544.5,373.0 540.5,376.5 540.5,372.0" fill="#32a068"/>
</g>
<path d="M324 34H576A9 6 0 0 1 585 40V379.5L581.5 383H322A6 8 0 0 1 316 375V42A8 8 0 0 1 324 34Z" fill="none" stroke="#ff0000" stroke-width="2" shape-rendering="crispEdges"/>
<g shape-rendering="crispEdges" fill="#6c6c6c">
<rect x="2" y="399" width="1" height="4"/>
<rect x="10" y="399" width="1" height="4"/>
<rect x="18" y="399" width="1" height="4"/>
<rect x="26" y="399" width="1" height="4"/>
<rect x="34" y="399" width="1" height="4"/>
<rect x="42" y="399" width="1" height="4"/>
<rect x="50" y="399" width="1" height="4"/>
<rect x="58" y="399" width="1" height="4"/>
<rect x="66" y="399" width="1" height="4"/>
<rect x="74" y="399" width="1" height="4"/>
<rect x="82" y="399" width="1" height="4"/>
<rect x="90" y="399" width="1" height="4"/>
<rect x="98" y="399" width="1" height="4"/>
<rect x="106" y="399" width="1" height="4"/>
<rect x="114" y="399" width="1" height="4"/>
<rect x="122" y="399" width="1" height="4"/>
<rect x="130" y="399" width="1" height="4"/>
<rect x="138" y="399" width="1" height="4"/>
<rect x="146" y="399" width="1" height="4"/>
<rect x="154" y="399" width="1" height="4"/>
<rect x="162" y="399" width="1" height="4"/>
<rect x="170" y="399" width="1" height="4"/>
<rect x="178" y="399" width="1" height="4"/>
<rect x="186" y="399" width="1" height="4"/>
<rect x="194" y="399" width="1" height="4"/>
<rect x="202" y="399" width="1" height="4"/>
<rect x="210" y="399" width="1" height="4"/>
<rect x="218" y="399" width="1" height="4"/>
<rect x="226" y="399" width="1" height="4"/>
<rect x="234" y="399" width="1" height="4"/>
<rect x="242" y="399" width="1" height="4"/>
<rect x="250" y="399" width="1" height="4"/>
<rect x="258" y="399" width="1" height="4"/>
<rect x="266" y="398" width="1" height="5"/>
<rect x="274" y="398" width="1" height="5"/>
<rect x="282" y="398" width="1" height="5"/>
<rect x="290" y="398" width="1" height="5"/>
<rect x="298" y="398" width="1" height="5"/>
<rect x="306" y="397" width="1" height="6"/>
<rect x="314" y="397" width="1" height="6"/>
<rect x="322" y="395" width="1" height="8"/>
<rect x="330" y="394" width="1" height="9"/>
<rect x="338" y="392" width="1" height="11"/>
<rect x="346" y="392" width="1" height="11"/>
<rect x="354" y="391" width="1" height="12"/>
<rect x="362" y="390" width="1" height="13"/>
<rect x="370" y="390" width="1" height="13"/>
<rect x="378" y="389" width="1" height="14"/>
<rect x="386" y="389" width="1" height="14"/>
<rect x="394" y="388" width="1" height="15"/>
<rect x="402" y="388" width="1" height="15"/>
<rect x="410" y="388" width="1" height="15"/>
<rect x="418" y="389" width="1" height="14"/>
<rect x="426" y="390" width="1" height="13"/>
<rect x="434" y="390" width="1" height="13"/>
<rect x="442" y="393" width="1" height="10"/>
<rect x="450" y="398" width="1" height="5"/>
<rect x="458" y="400" width="1" height="3"/>
<rect x="466" y="402" width="1" height="1"/>
<rect x="474" y="403" width="1" height="1"/>
<rect x="482" y="403" width="1" height="2"/>
<rect x="490" y="403" width="1" height="2"/>
<rect x="498" y="403" width="1" height="3"/>
<rect x="506" y="403" width="1" height="5"/>
<rect x="514" y="403" width="1" height="8"/>
<rect x="522" y="403" width="1" height="12"/>
<rect x="530" y="403" width="1" height="18"/>
<rect x="538" y="403" width="1" height="24"/>
<rect x="546" y="403" width="1" height="28"/>
<rect x="554" y="403" width="1" height="30"/>
<rect x="562" y="403" width="1" height="32"/>
<rect x="570" y="403" width="1" height="31"/>
<rect x="578" y="403" width="1" height="29"/>
<rect x="586" y="403" width="1" height="26"/>
<rect x="594" y="403" width="1" height="24"/>
<rect x="602" y="403" width="1" height="24"/>
<rect x="610" y="403" width="1" height="24"/>
<rect x="618" y="403" width="1" height="24"/>
<rect x="626" y="403" width="1" height="24"/>
<rect x="634" y="403" width="1" height="23"/>
<rect x="642" y="403" width="1" height="22"/>
<rect x="650" y="403" width="1" height="22"/>
<rect x="658" y="403" width="1" height="22"/>
<rect x="666" y="403" width="1" height="21"/>
<rect x="674" y="403" width="1" height="21"/>
<rect x="682" y="403" width="1" height="21"/>
<rect x="690" y="403" width="1" height="21"/>
<rect x="698" y="403" width="1" height="20"/>
<rect x="706" y="403" width="1" height="19"/>
<rect x="714" y="403" width="1" height="19"/>
</g>
<polyline points="0.0,398.5 215.0,398.5 222.0,399.3 261.0,398.9 267.0,398.2 303.0,397.3 324.0,396.7 334.7,396.0 345.0,395.0 355.8,393.5 366.0,392.5 376.8,391.4 387.0,391.0 400.0,389.7 406.3,389.3 422.0,388.6 438.0,388.6 450.5,390.2 463.0,391.8 475.8,395.0 488.4,397.5 501.0,401.3 514.0,404.4 531.6,409.2 547.4,414.5 563.0,420.8 579.0,425.9 591.6,429.0 604.0,430.3 620.0,430.3 632.6,428.1 651.6,426.5 670.5,425.3 689.5,424.0 702.0,422.7 714.7,422.1" fill="none" stroke="#ff0000" stroke-width="1" stroke-dasharray="3.5 2.5" shape-rendering="crispEdges"/>
<rect x="719" y="398" width="2" height="5" fill="#f0a020" opacity="0.8"/><rect x="719" y="430" width="1" height="2" fill="#e89020" opacity="0.8"/>
<g clip-path="url(#cb)">
<polyline points="0,471.4 1.9,457.5 10.1,444.8" fill="none" stroke="#0a8a1a" stroke-width="1.1"/>
<polyline points="10.1,444.8 18.3,483.4 24.6,498" fill="none" stroke="#ff0000" stroke-width="1.3"/>
<polyline points="387.1,498 393.8,456.8 402,444.8" fill="none" stroke="#0a8a1a" stroke-width="1.1"/>
<polyline points="402,444.8 409.9,483.1 416.2,498" fill="none" stroke="#ff0000" stroke-width="1.3"/>
<circle cx="10.3" cy="444.8" r="1.7" fill="#ff1030"/>
<circle cx="18.3" cy="483.4" r="1.7" fill="#ff1030"/>
<circle cx="402.2" cy="444.8" r="1.7" fill="#ff1030"/>
<circle cx="409.9" cy="483.1" r="1.7" fill="#ff1030"/>
<circle cx="2.0" cy="457.5" r="1.7" fill="#50a030"/>
<circle cx="393.8" cy="456.8" r="1.7" fill="#50a030"/>
</g>
<text x="-3.0" y="41.5" font-size="8.9" stroke="#000" stroke-width="0.25" textLength="32.5" lengthAdjust="spacingAndGlyphs">Monthly</text>
<text x="36.6" y="41.5" font-size="8.9" stroke="#000" stroke-width="0.25" textLength="27.3" lengthAdjust="spacingAndGlyphs">128.92</text>
<text x="67.7" y="41.5" font-size="8.9" stroke="#000" stroke-width="0.25" textLength="27.3" lengthAdjust="spacingAndGlyphs">132.00</text>
<text x="98.6" y="41.5" font-size="8.9" stroke="#000" stroke-width="0.25" textLength="27.4" lengthAdjust="spacingAndGlyphs">128.78</text>
<text x="129.8" y="41.5" font-size="8.9" stroke="#000" stroke-width="0.25" textLength="27.3" lengthAdjust="spacingAndGlyphs">130.58</text>
<text x="-1.0" y="396.9" font-size="8.9" stroke="#000" stroke-width="0.25" textLength="24.5" lengthAdjust="spacingAndGlyphs">,26,9)</text>
<text x="27.6" y="396.9" font-size="8.9" stroke="#000" stroke-width="0.25" textLength="29.5" lengthAdjust="spacingAndGlyphs">-12.711</text>
<text x="61.6" y="396.9" font-size="8.9" stroke="#000" stroke-width="0.25" textLength="30.2" lengthAdjust="spacingAndGlyphs">-13.794</text>
<text x="0.0" y="451.6" font-size="8.9" stroke="#000" stroke-width="0.25" textLength="2.5" lengthAdjust="spacingAndGlyphs">,</text>
<text x="7.6" y="451.6" font-size="8.9" stroke="#000" stroke-width="0.25" textLength="12.5" lengthAdjust="spacingAndGlyphs">But</text>
<text x="23.4" y="451.6" font-size="8.9" stroke="#000" stroke-width="0.25" textLength="12.0" lengthAdjust="spacingAndGlyphs">not</text>
<text x="39.0" y="451.6" font-size="8.9" stroke="#000" stroke-width="0.25" textLength="9.0" lengthAdjust="spacingAndGlyphs">as</text>
<text x="51.8" y="451.6" font-size="8.9" stroke="#000" stroke-width="0.25" textLength="11.2" lengthAdjust="spacingAndGlyphs">we</text>
<text x="67.0" y="451.6" font-size="8.9" stroke="#000" stroke-width="0.25" textLength="22.0" lengthAdjust="spacingAndGlyphs">know</text>
<text x="92.8" y="451.6" font-size="8.9" stroke="#000" stroke-width="0.25" textLength="13.2" lengthAdjust="spacingAndGlyphs">it...</text>
<text x="113.8" y="451.6" font-size="8.9" stroke="#000" stroke-width="0.25" textLength="27.5" lengthAdjust="spacingAndGlyphs">0.0010</text>
<text x="144.5" y="451.6" font-size="8.9" stroke="#000" stroke-width="0.25" textLength="27.5" lengthAdjust="spacingAndGlyphs">0.0010</text>
</svg></body></html>
